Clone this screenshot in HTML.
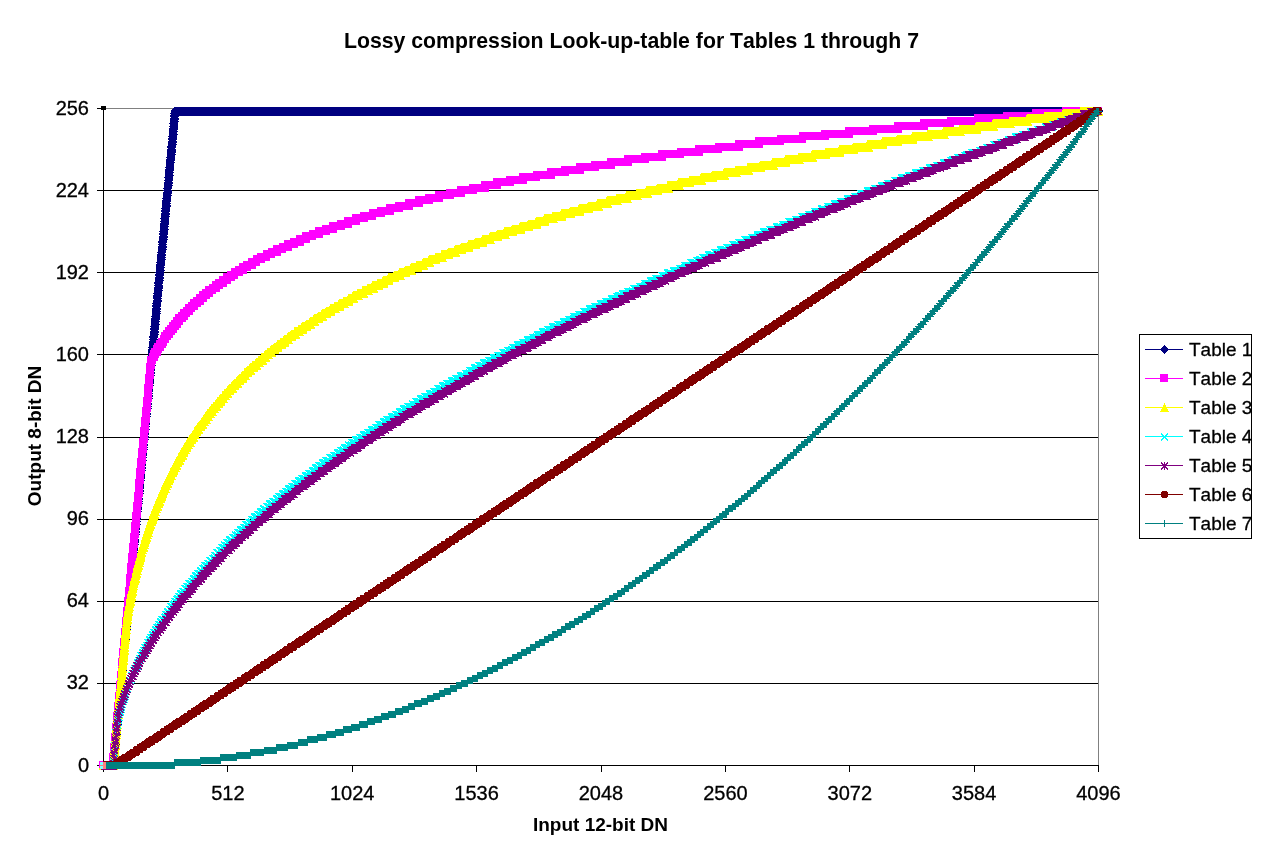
<!DOCTYPE html><html><head><meta charset="utf-8"><title>Lossy compression Look-up-table</title><style>html,body{margin:0;padding:0;background:#fff}svg{display:block}</style></head><body><svg width="1261" height="859" viewBox="0 0 1261 859" shape-rendering="crispEdges">
<rect width="100%" height="100%" fill="#fff"/>
<defs>
<marker id="m1" markerWidth="10" markerHeight="10" refX="5" refY="5" markerUnits="userSpaceOnUse"><path d="M4.2 0.5H5.8L9.5 4.6V5.4L5.8 9.5H4.2L0.5 5.4V4.6Z" fill="#000080"/></marker>
<marker id="m2" markerWidth="10" markerHeight="10" refX="5" refY="5" markerUnits="userSpaceOnUse"><rect x="0.5" y="0.5" width="8" height="8" fill="#FF00FF"/></marker>
<marker id="m3" markerWidth="10" markerHeight="10" refX="5" refY="5" markerUnits="userSpaceOnUse"><path d="M4.2 0.5H5.8L9.5 8.5V9.5H0.5V8.5Z" fill="#FFFF00"/></marker>
<marker id="m4" markerWidth="10" markerHeight="10" refX="5" refY="5" markerUnits="userSpaceOnUse"><path d="M1.5 2L8.5 9M8.5 2L1.5 9" stroke="#00FFFF" stroke-width="1.2" fill="none"/></marker>
<marker id="m5" markerWidth="10" markerHeight="10" refX="5" refY="5" markerUnits="userSpaceOnUse"><path d="M1.5 2L8.5 9M8.5 2L1.5 9M5 1.5V9.5" stroke="#800080" stroke-width="1" fill="none"/></marker>
<marker id="m6" markerWidth="10" markerHeight="10" refX="5" refY="5" markerUnits="userSpaceOnUse"><circle cx="5" cy="4.6" r="3.8" fill="#800000"/></marker>
<marker id="m7" markerWidth="10" markerHeight="10" refX="5" refY="5" markerUnits="userSpaceOnUse"><path d="M1.5 5H8.5M5 1.5V8.5" stroke="#008080" stroke-width="1.2" fill="none"/></marker>
<marker id="l1" markerWidth="10" markerHeight="10" refX="5" refY="5" markerUnits="userSpaceOnUse"><path d="M5 0.5L9 5L5 9.5L1 5Z" fill="#000080"/></marker>
<marker id="l3" markerWidth="10" markerHeight="10" refX="5" refY="5" markerUnits="userSpaceOnUse"><path d="M5 0.5L9.5 9.5H0.5Z" fill="#FFFF00"/></marker>
<marker id="l6" markerWidth="10" markerHeight="10" refX="5" refY="5" markerUnits="userSpaceOnUse"><circle cx="5" cy="5" r="3.8" fill="#800000"/></marker>
</defs>
<line x1="103.5" y1="683.375" x2="1098.5" y2="683.375" stroke="#000" stroke-width="1"/>
<line x1="103.5" y1="601.25" x2="1098.5" y2="601.25" stroke="#000" stroke-width="1"/>
<line x1="103.5" y1="519.125" x2="1098.5" y2="519.125" stroke="#000" stroke-width="1"/>
<line x1="103.5" y1="437.0" x2="1098.5" y2="437.0" stroke="#000" stroke-width="1"/>
<line x1="103.5" y1="354.875" x2="1098.5" y2="354.875" stroke="#000" stroke-width="1"/>
<line x1="103.5" y1="272.75" x2="1098.5" y2="272.75" stroke="#000" stroke-width="1"/>
<line x1="103.5" y1="190.625" x2="1098.5" y2="190.625" stroke="#000" stroke-width="1"/>
<path d="M103.5 108.5H1098.5V765.5" fill="none" stroke="#808080" stroke-width="1"/>
<line x1="103.5" y1="108.5" x2="103.5" y2="771.5" stroke="#000"/>
<line x1="97.0" y1="765.5" x2="1098.5" y2="765.5" stroke="#000"/>
<line x1="97.0" y1="683.375" x2="103.5" y2="683.375" stroke="#000"/>
<line x1="97.0" y1="601.25" x2="103.5" y2="601.25" stroke="#000"/>
<line x1="97.0" y1="519.125" x2="103.5" y2="519.125" stroke="#000"/>
<line x1="97.0" y1="437.0" x2="103.5" y2="437.0" stroke="#000"/>
<line x1="97.0" y1="354.875" x2="103.5" y2="354.875" stroke="#000"/>
<line x1="97.0" y1="272.75" x2="103.5" y2="272.75" stroke="#000"/>
<line x1="97.0" y1="190.625" x2="103.5" y2="190.625" stroke="#000"/>
<line x1="97.0" y1="108.5" x2="103.5" y2="108.5" stroke="#000"/>
<line x1="227.5" y1="765.5" x2="227.5" y2="772.0" stroke="#000"/>
<line x1="352.5" y1="765.5" x2="352.5" y2="772.0" stroke="#000"/>
<line x1="476.5" y1="765.5" x2="476.5" y2="772.0" stroke="#000"/>
<line x1="601.5" y1="765.5" x2="601.5" y2="772.0" stroke="#000"/>
<line x1="725.5" y1="765.5" x2="725.5" y2="772.0" stroke="#000"/>
<line x1="849.5" y1="765.5" x2="849.5" y2="772.0" stroke="#000"/>
<line x1="974.5" y1="765.5" x2="974.5" y2="772.0" stroke="#000"/>
<line x1="1098.5" y1="765.5" x2="1098.5" y2="772.0" stroke="#000"/>
<polyline points="103.5,765.5 104.5,765.5 105.4,765.5 106.4,765.5 107.4,765.5 108.4,765.5 109.3,765.5 110.3,765.5 111.3,765.5 112.2,765.5 113.2,765.5 113.5,762.9 113.7,760.4 113.9,757.8 114.2,755.2 114.4,752.7 114.7,750.1 114.9,747.5 115.2,745.0 115.4,742.4 115.6,739.8 115.9,737.3 116.1,734.7 116.4,732.1 116.6,729.6 116.9,727.0 117.1,724.4 117.3,721.9 117.6,719.3 117.8,716.7 118.1,714.2 118.3,711.6 118.6,709.0 118.8,706.5 119.0,703.9 119.3,701.3 119.5,698.8 119.8,696.2 120.0,693.6 120.3,691.1 120.5,688.5 120.7,685.9 121.0,683.4 121.2,680.8 121.5,678.2 121.7,675.7 122.0,673.1 122.2,670.5 122.4,668.0 122.7,665.4 122.9,662.8 123.2,660.3 123.4,657.7 123.7,655.1 123.9,652.6 124.1,650.0 124.4,647.4 124.6,644.9 124.9,642.3 125.1,639.7 125.4,637.2 125.6,634.6 125.8,632.0 126.1,629.5 126.3,626.9 126.6,624.3 126.8,621.8 127.1,619.2 127.3,616.6 127.5,614.1 127.8,611.5 128.0,608.9 128.3,606.4 128.5,603.8 128.8,601.2 129.0,598.7 129.2,596.1 129.5,593.6 129.7,591.0 130.0,588.4 130.2,585.9 130.5,583.3 130.7,580.7 130.9,578.2 131.2,575.6 131.4,573.0 131.7,570.5 131.9,567.9 132.2,565.3 132.4,562.8 132.7,560.2 132.9,557.6 133.1,555.1 133.4,552.5 133.6,549.9 133.9,547.4 134.1,544.8 134.4,542.2 134.6,539.7 134.8,537.1 135.1,534.5 135.3,532.0 135.6,529.4 135.8,526.8 136.1,524.3 136.3,521.7 136.5,519.1 136.8,516.6 137.0,514.0 137.3,511.4 137.5,508.9 137.8,506.3 138.0,503.7 138.2,501.2 138.5,498.6 138.7,496.0 139.0,493.5 139.2,490.9 139.5,488.3 139.7,485.8 139.9,483.2 140.2,480.6 140.4,478.1 140.7,475.5 140.9,472.9 141.2,470.4 141.4,467.8 141.6,465.2 141.9,462.7 142.1,460.1 142.4,457.5 142.6,455.0 142.9,452.4 143.1,449.8 143.3,447.3 143.6,444.7 143.8,442.1 144.1,439.6 144.3,437.0 144.6,434.4 144.8,431.9 145.0,429.3 145.3,426.7 145.5,424.2 145.8,421.6 146.0,419.0 146.3,416.5 146.5,413.9 146.7,411.3 147.0,408.8 147.2,406.2 147.5,403.6 147.7,401.1 148.0,398.5 148.2,395.9 148.4,393.4 148.7,390.8 148.9,388.2 149.2,385.7 149.4,383.1 149.7,380.5 149.9,378.0 150.1,375.4 150.4,372.8 150.6,370.3 150.9,367.7 151.1,365.1 151.4,362.6 151.6,360.0 151.8,357.4 152.1,354.9 152.3,352.3 152.6,349.7 152.8,347.2 153.1,344.6 153.3,342.0 153.5,339.5 153.8,336.9 154.0,334.3 154.3,331.8 154.5,329.2 154.8,326.6 155.0,324.1 155.2,321.5 155.5,318.9 155.7,316.4 156.0,313.8 156.2,311.2 156.5,308.7 156.7,306.1 156.9,303.5 157.2,301.0 157.4,298.4 157.7,295.8 157.9,293.3 158.2,290.7 158.4,288.1 158.6,285.6 158.9,283.0 159.1,280.4 159.4,277.9 159.6,275.3 159.9,272.8 160.1,270.2 160.3,267.6 160.6,265.1 160.8,262.5 161.1,259.9 161.3,257.4 161.6,254.8 161.8,252.2 162.0,249.7 162.3,247.1 162.5,244.5 162.8,242.0 163.0,239.4 163.3,236.8 163.5,234.3 163.7,231.7 164.0,229.1 164.2,226.6 164.5,224.0 164.7,221.4 165.0,218.9 165.2,216.3 165.4,213.7 165.7,211.2 165.9,208.6 166.2,206.0 166.4,203.5 166.7,200.9 166.9,198.3 167.1,195.8 167.4,193.2 167.6,190.6 167.9,188.1 168.1,185.5 168.4,182.9 168.6,180.4 168.8,177.8 169.1,175.2 169.3,172.7 169.6,170.1 169.8,167.5 170.1,165.0 170.3,162.4 170.5,159.8 170.8,157.3 171.0,154.7 171.3,152.1 171.5,149.6 171.8,147.0 172.0,144.4 172.2,141.9 172.5,139.3 172.7,136.7 173.0,134.2 173.2,131.6 173.5,129.0 173.7,126.5 173.9,123.9 174.2,121.3 174.4,118.8 174.7,116.2 174.9,113.6 175.2,111.1 176.1,111.1 177.1,111.1 178.1,111.1 179.0,111.1 180.0,111.1 181.0,111.1 182.0,111.1 182.9,111.1 183.9,111.1 184.9,111.1 185.8,111.1 186.8,111.1 187.8,111.1 188.8,111.1 189.7,111.1 190.7,111.1 191.7,111.1 192.7,111.1 193.6,111.1 194.6,111.1 195.6,111.1 196.5,111.1 197.5,111.1 198.5,111.1 199.5,111.1 200.4,111.1 201.4,111.1 202.4,111.1 203.3,111.1 204.3,111.1 205.3,111.1 206.3,111.1 207.2,111.1 208.2,111.1 209.2,111.1 210.1,111.1 211.1,111.1 212.1,111.1 213.1,111.1 214.0,111.1 215.0,111.1 216.0,111.1 216.9,111.1 217.9,111.1 218.9,111.1 219.9,111.1 220.8,111.1 221.8,111.1 222.8,111.1 223.7,111.1 224.7,111.1 225.7,111.1 226.7,111.1 227.6,111.1 228.6,111.1 229.6,111.1 230.5,111.1 231.5,111.1 232.5,111.1 233.5,111.1 234.4,111.1 235.4,111.1 236.4,111.1 237.3,111.1 238.3,111.1 239.3,111.1 240.3,111.1 241.2,111.1 242.2,111.1 243.2,111.1 244.2,111.1 245.1,111.1 246.1,111.1 247.1,111.1 248.0,111.1 249.0,111.1 250.0,111.1 251.0,111.1 251.9,111.1 252.9,111.1 253.9,111.1 254.8,111.1 255.8,111.1 256.8,111.1 257.8,111.1 258.7,111.1 259.7,111.1 260.7,111.1 261.6,111.1 262.6,111.1 263.6,111.1 264.6,111.1 265.5,111.1 266.5,111.1 267.5,111.1 268.4,111.1 269.4,111.1 270.4,111.1 271.4,111.1 272.3,111.1 273.3,111.1 274.3,111.1 275.2,111.1 276.2,111.1 277.2,111.1 278.2,111.1 279.1,111.1 280.1,111.1 281.1,111.1 282.0,111.1 283.0,111.1 284.0,111.1 285.0,111.1 285.9,111.1 286.9,111.1 287.9,111.1 288.8,111.1 289.8,111.1 290.8,111.1 291.8,111.1 292.7,111.1 293.7,111.1 294.7,111.1 295.6,111.1 296.6,111.1 297.6,111.1 298.6,111.1 299.5,111.1 300.5,111.1 301.5,111.1 302.5,111.1 303.4,111.1 304.4,111.1 305.4,111.1 306.3,111.1 307.3,111.1 308.3,111.1 309.3,111.1 310.2,111.1 311.2,111.1 312.2,111.1 313.1,111.1 314.1,111.1 315.1,111.1 316.1,111.1 317.0,111.1 318.0,111.1 319.0,111.1 319.9,111.1 320.9,111.1 321.9,111.1 322.9,111.1 323.8,111.1 324.8,111.1 325.8,111.1 326.7,111.1 327.7,111.1 328.7,111.1 329.7,111.1 330.6,111.1 331.6,111.1 332.6,111.1 333.5,111.1 334.5,111.1 335.5,111.1 336.5,111.1 337.4,111.1 338.4,111.1 339.4,111.1 340.3,111.1 341.3,111.1 342.3,111.1 343.3,111.1 344.2,111.1 345.2,111.1 346.2,111.1 347.1,111.1 348.1,111.1 349.1,111.1 350.1,111.1 351.0,111.1 352.0,111.1 353.0,111.1 354.0,111.1 354.9,111.1 355.9,111.1 356.9,111.1 357.8,111.1 358.8,111.1 359.8,111.1 360.8,111.1 361.7,111.1 362.7,111.1 363.7,111.1 364.6,111.1 365.6,111.1 366.6,111.1 367.6,111.1 368.5,111.1 369.5,111.1 370.5,111.1 371.4,111.1 372.4,111.1 373.4,111.1 374.4,111.1 375.3,111.1 376.3,111.1 377.3,111.1 378.2,111.1 379.2,111.1 380.2,111.1 381.2,111.1 382.1,111.1 383.1,111.1 384.1,111.1 385.0,111.1 386.0,111.1 387.0,111.1 388.0,111.1 388.9,111.1 389.9,111.1 390.9,111.1 391.8,111.1 392.8,111.1 393.8,111.1 394.8,111.1 395.7,111.1 396.7,111.1 397.7,111.1 398.6,111.1 399.6,111.1 400.6,111.1 401.6,111.1 402.5,111.1 403.5,111.1 404.5,111.1 405.4,111.1 406.4,111.1 407.4,111.1 408.4,111.1 409.3,111.1 410.3,111.1 411.3,111.1 412.3,111.1 413.2,111.1 414.2,111.1 415.2,111.1 416.1,111.1 417.1,111.1 418.1,111.1 419.1,111.1 420.0,111.1 421.0,111.1 422.0,111.1 422.9,111.1 423.9,111.1 424.9,111.1 425.9,111.1 426.8,111.1 427.8,111.1 428.8,111.1 429.7,111.1 430.7,111.1 431.7,111.1 432.7,111.1 433.6,111.1 434.6,111.1 435.6,111.1 436.5,111.1 437.5,111.1 438.5,111.1 439.5,111.1 440.4,111.1 441.4,111.1 442.4,111.1 443.3,111.1 444.3,111.1 445.3,111.1 446.3,111.1 447.2,111.1 448.2,111.1 449.2,111.1 450.1,111.1 451.1,111.1 452.1,111.1 453.1,111.1 454.0,111.1 455.0,111.1 456.0,111.1 456.9,111.1 457.9,111.1 458.9,111.1 459.9,111.1 460.8,111.1 461.8,111.1 462.8,111.1 463.8,111.1 464.7,111.1 465.7,111.1 466.7,111.1 467.6,111.1 468.6,111.1 469.6,111.1 470.6,111.1 471.5,111.1 472.5,111.1 473.5,111.1 474.4,111.1 475.4,111.1 476.4,111.1 477.4,111.1 478.3,111.1 479.3,111.1 480.3,111.1 481.2,111.1 482.2,111.1 483.2,111.1 484.2,111.1 485.1,111.1 486.1,111.1 487.1,111.1 488.0,111.1 489.0,111.1 490.0,111.1 491.0,111.1 491.9,111.1 492.9,111.1 493.9,111.1 494.8,111.1 495.8,111.1 496.8,111.1 497.8,111.1 498.7,111.1 499.7,111.1 500.7,111.1 501.6,111.1 502.6,111.1 503.6,111.1 504.6,111.1 505.5,111.1 506.5,111.1 507.5,111.1 508.4,111.1 509.4,111.1 510.4,111.1 511.4,111.1 512.3,111.1 513.3,111.1 514.3,111.1 515.2,111.1 516.2,111.1 517.2,111.1 518.2,111.1 519.1,111.1 520.1,111.1 521.1,111.1 522.1,111.1 523.0,111.1 524.0,111.1 525.0,111.1 525.9,111.1 526.9,111.1 527.9,111.1 528.9,111.1 529.8,111.1 530.8,111.1 531.8,111.1 532.7,111.1 533.7,111.1 534.7,111.1 535.7,111.1 536.6,111.1 537.6,111.1 538.6,111.1 539.5,111.1 540.5,111.1 541.5,111.1 542.5,111.1 543.4,111.1 544.4,111.1 545.4,111.1 546.3,111.1 547.3,111.1 548.3,111.1 549.3,111.1 550.2,111.1 551.2,111.1 552.2,111.1 553.1,111.1 554.1,111.1 555.1,111.1 556.1,111.1 557.0,111.1 558.0,111.1 559.0,111.1 559.9,111.1 560.9,111.1 561.9,111.1 562.9,111.1 563.8,111.1 564.8,111.1 565.8,111.1 566.7,111.1 567.7,111.1 568.7,111.1 569.7,111.1 570.6,111.1 571.6,111.1 572.6,111.1 573.6,111.1 574.5,111.1 575.5,111.1 576.5,111.1 577.4,111.1 578.4,111.1 579.4,111.1 580.4,111.1 581.3,111.1 582.3,111.1 583.3,111.1 584.2,111.1 585.2,111.1 586.2,111.1 587.2,111.1 588.1,111.1 589.1,111.1 590.1,111.1 591.0,111.1 592.0,111.1 593.0,111.1 594.0,111.1 594.9,111.1 595.9,111.1 596.9,111.1 597.8,111.1 598.8,111.1 599.8,111.1 600.8,111.1 601.7,111.1 602.7,111.1 603.7,111.1 604.6,111.1 605.6,111.1 606.6,111.1 607.6,111.1 608.5,111.1 609.5,111.1 610.5,111.1 611.4,111.1 612.4,111.1 613.4,111.1 614.4,111.1 615.3,111.1 616.3,111.1 617.3,111.1 618.2,111.1 619.2,111.1 620.2,111.1 621.2,111.1 622.1,111.1 623.1,111.1 624.1,111.1 625.0,111.1 626.0,111.1 627.0,111.1 628.0,111.1 628.9,111.1 629.9,111.1 630.9,111.1 631.9,111.1 632.8,111.1 633.8,111.1 634.8,111.1 635.7,111.1 636.7,111.1 637.7,111.1 638.7,111.1 639.6,111.1 640.6,111.1 641.6,111.1 642.5,111.1 643.5,111.1 644.5,111.1 645.5,111.1 646.4,111.1 647.4,111.1 648.4,111.1 649.3,111.1 650.3,111.1 651.3,111.1 652.3,111.1 653.2,111.1 654.2,111.1 655.2,111.1 656.1,111.1 657.1,111.1 658.1,111.1 659.1,111.1 660.0,111.1 661.0,111.1 662.0,111.1 662.9,111.1 663.9,111.1 664.9,111.1 665.9,111.1 666.8,111.1 667.8,111.1 668.8,111.1 669.7,111.1 670.7,111.1 671.7,111.1 672.7,111.1 673.6,111.1 674.6,111.1 675.6,111.1 676.5,111.1 677.5,111.1 678.5,111.1 679.5,111.1 680.4,111.1 681.4,111.1 682.4,111.1 683.3,111.1 684.3,111.1 685.3,111.1 686.3,111.1 687.2,111.1 688.2,111.1 689.2,111.1 690.2,111.1 691.1,111.1 692.1,111.1 693.1,111.1 694.0,111.1 695.0,111.1 696.0,111.1 697.0,111.1 697.9,111.1 698.9,111.1 699.9,111.1 700.8,111.1 701.8,111.1 702.8,111.1 703.8,111.1 704.7,111.1 705.7,111.1 706.7,111.1 707.6,111.1 708.6,111.1 709.6,111.1 710.6,111.1 711.5,111.1 712.5,111.1 713.5,111.1 714.4,111.1 715.4,111.1 716.4,111.1 717.4,111.1 718.3,111.1 719.3,111.1 720.3,111.1 721.2,111.1 722.2,111.1 723.2,111.1 724.2,111.1 725.1,111.1 726.1,111.1 727.1,111.1 728.0,111.1 729.0,111.1 730.0,111.1 731.0,111.1 731.9,111.1 732.9,111.1 733.9,111.1 734.8,111.1 735.8,111.1 736.8,111.1 737.8,111.1 738.7,111.1 739.7,111.1 740.7,111.1 741.7,111.1 742.6,111.1 743.6,111.1 744.6,111.1 745.5,111.1 746.5,111.1 747.5,111.1 748.5,111.1 749.4,111.1 750.4,111.1 751.4,111.1 752.3,111.1 753.3,111.1 754.3,111.1 755.3,111.1 756.2,111.1 757.2,111.1 758.2,111.1 759.1,111.1 760.1,111.1 761.1,111.1 762.1,111.1 763.0,111.1 764.0,111.1 765.0,111.1 765.9,111.1 766.9,111.1 767.9,111.1 768.9,111.1 769.8,111.1 770.8,111.1 771.8,111.1 772.7,111.1 773.7,111.1 774.7,111.1 775.7,111.1 776.6,111.1 777.6,111.1 778.6,111.1 779.5,111.1 780.5,111.1 781.5,111.1 782.5,111.1 783.4,111.1 784.4,111.1 785.4,111.1 786.3,111.1 787.3,111.1 788.3,111.1 789.3,111.1 790.2,111.1 791.2,111.1 792.2,111.1 793.1,111.1 794.1,111.1 795.1,111.1 796.1,111.1 797.0,111.1 798.0,111.1 799.0,111.1 800.0,111.1 800.9,111.1 801.9,111.1 802.9,111.1 803.8,111.1 804.8,111.1 805.8,111.1 806.8,111.1 807.7,111.1 808.7,111.1 809.7,111.1 810.6,111.1 811.6,111.1 812.6,111.1 813.6,111.1 814.5,111.1 815.5,111.1 816.5,111.1 817.4,111.1 818.4,111.1 819.4,111.1 820.4,111.1 821.3,111.1 822.3,111.1 823.3,111.1 824.2,111.1 825.2,111.1 826.2,111.1 827.2,111.1 828.1,111.1 829.1,111.1 830.1,111.1 831.0,111.1 832.0,111.1 833.0,111.1 834.0,111.1 834.9,111.1 835.9,111.1 836.9,111.1 837.8,111.1 838.8,111.1 839.8,111.1 840.8,111.1 841.7,111.1 842.7,111.1 843.7,111.1 844.6,111.1 845.6,111.1 846.6,111.1 847.6,111.1 848.5,111.1 849.5,111.1 850.5,111.1 851.5,111.1 852.4,111.1 853.4,111.1 854.4,111.1 855.3,111.1 856.3,111.1 857.3,111.1 858.3,111.1 859.2,111.1 860.2,111.1 861.2,111.1 862.1,111.1 863.1,111.1 864.1,111.1 865.1,111.1 866.0,111.1 867.0,111.1 868.0,111.1 868.9,111.1 869.9,111.1 870.9,111.1 871.9,111.1 872.8,111.1 873.8,111.1 874.8,111.1 875.7,111.1 876.7,111.1 877.7,111.1 878.7,111.1 879.6,111.1 880.6,111.1 881.6,111.1 882.5,111.1 883.5,111.1 884.5,111.1 885.5,111.1 886.4,111.1 887.4,111.1 888.4,111.1 889.3,111.1 890.3,111.1 891.3,111.1 892.3,111.1 893.2,111.1 894.2,111.1 895.2,111.1 896.1,111.1 897.1,111.1 898.1,111.1 899.1,111.1 900.0,111.1 901.0,111.1 902.0,111.1 902.9,111.1 903.9,111.1 904.9,111.1 905.9,111.1 906.8,111.1 907.8,111.1 908.8,111.1 909.8,111.1 910.7,111.1 911.7,111.1 912.7,111.1 913.6,111.1 914.6,111.1 915.6,111.1 916.6,111.1 917.5,111.1 918.5,111.1 919.5,111.1 920.4,111.1 921.4,111.1 922.4,111.1 923.4,111.1 924.3,111.1 925.3,111.1 926.3,111.1 927.2,111.1 928.2,111.1 929.2,111.1 930.2,111.1 931.1,111.1 932.1,111.1 933.1,111.1 934.0,111.1 935.0,111.1 936.0,111.1 937.0,111.1 937.9,111.1 938.9,111.1 939.9,111.1 940.8,111.1 941.8,111.1 942.8,111.1 943.8,111.1 944.7,111.1 945.7,111.1 946.7,111.1 947.6,111.1 948.6,111.1 949.6,111.1 950.6,111.1 951.5,111.1 952.5,111.1 953.5,111.1 954.4,111.1 955.4,111.1 956.4,111.1 957.4,111.1 958.3,111.1 959.3,111.1 960.3,111.1 961.3,111.1 962.2,111.1 963.2,111.1 964.2,111.1 965.1,111.1 966.1,111.1 967.1,111.1 968.1,111.1 969.0,111.1 970.0,111.1 971.0,111.1 971.9,111.1 972.9,111.1 973.9,111.1 974.9,111.1 975.8,111.1 976.8,111.1 977.8,111.1 978.7,111.1 979.7,111.1 980.7,111.1 981.7,111.1 982.6,111.1 983.6,111.1 984.6,111.1 985.5,111.1 986.5,111.1 987.5,111.1 988.5,111.1 989.4,111.1 990.4,111.1 991.4,111.1 992.3,111.1 993.3,111.1 994.3,111.1 995.3,111.1 996.2,111.1 997.2,111.1 998.2,111.1 999.1,111.1 1000.1,111.1 1001.1,111.1 1002.1,111.1 1003.0,111.1 1004.0,111.1 1005.0,111.1 1005.9,111.1 1006.9,111.1 1007.9,111.1 1008.9,111.1 1009.8,111.1 1010.8,111.1 1011.8,111.1 1012.7,111.1 1013.7,111.1 1014.7,111.1 1015.7,111.1 1016.6,111.1 1017.6,111.1 1018.6,111.1 1019.6,111.1 1020.5,111.1 1021.5,111.1 1022.5,111.1 1023.4,111.1 1024.4,111.1 1025.4,111.1 1026.4,111.1 1027.3,111.1 1028.3,111.1 1029.3,111.1 1030.2,111.1 1031.2,111.1 1032.2,111.1 1033.2,111.1 1034.1,111.1 1035.1,111.1 1036.1,111.1 1037.0,111.1 1038.0,111.1 1039.0,111.1 1040.0,111.1 1040.9,111.1 1041.9,111.1 1042.9,111.1 1043.8,111.1 1044.8,111.1 1045.8,111.1 1046.8,111.1 1047.7,111.1 1048.7,111.1 1049.7,111.1 1050.6,111.1 1051.6,111.1 1052.6,111.1 1053.6,111.1 1054.5,111.1 1055.5,111.1 1056.5,111.1 1057.4,111.1 1058.4,111.1 1059.4,111.1 1060.4,111.1 1061.3,111.1 1062.3,111.1 1063.3,111.1 1064.2,111.1 1065.2,111.1 1066.2,111.1 1067.2,111.1 1068.1,111.1 1069.1,111.1 1070.1,111.1 1071.1,111.1 1072.0,111.1 1073.0,111.1 1074.0,111.1 1074.9,111.1 1075.9,111.1 1076.9,111.1 1077.9,111.1 1078.8,111.1 1079.8,111.1 1080.8,111.1 1081.7,111.1 1082.7,111.1 1083.7,111.1 1084.7,111.1 1085.6,111.1 1086.6,111.1 1087.6,111.1 1088.5,111.1 1089.5,111.1 1090.5,111.1 1091.5,111.1 1092.4,111.1 1093.4,111.1 1094.4,111.1 1095.3,111.1 1096.3,111.1 1097.3,111.1 1098.3,111.1 1098.5,111.1" fill="none" stroke="#000080" stroke-width="1" marker-start="url(#m1)" marker-mid="url(#m1)" marker-end="url(#m1)"/>
<polyline points="103.5,765.5 104.5,765.5 105.4,765.5 106.4,765.5 107.4,765.5 108.4,765.5 109.3,765.5 110.3,765.5 111.3,765.5 112.2,765.5 113.2,765.5 113.5,762.9 113.7,760.4 113.9,757.8 114.2,755.2 114.4,752.7 114.7,750.1 114.9,747.5 115.2,745.0 115.4,742.4 115.6,739.8 115.9,737.3 116.1,734.7 116.4,732.1 116.6,729.6 116.9,727.0 117.1,724.4 117.3,721.9 117.6,719.3 117.8,716.7 118.1,714.2 118.3,711.6 118.6,709.0 118.8,706.5 119.0,703.9 119.3,701.3 119.5,698.8 119.8,696.2 120.0,693.6 120.3,691.1 120.5,688.5 120.7,685.9 121.0,683.4 121.2,680.8 121.5,678.2 121.7,675.7 122.0,673.1 122.2,670.5 122.4,668.0 122.7,665.4 122.9,662.8 123.2,660.3 123.4,657.7 123.7,655.1 123.9,652.6 124.1,650.0 124.4,647.4 124.6,644.9 124.9,642.3 125.1,639.7 125.4,637.2 125.6,634.6 125.8,632.0 126.1,629.5 126.3,626.9 126.6,624.3 126.8,621.8 127.1,619.2 127.3,616.6 127.5,614.1 127.8,611.5 128.0,608.9 128.3,606.4 128.5,603.8 128.8,601.2 129.0,598.7 129.2,596.1 129.5,593.6 129.7,591.0 130.0,588.4 130.2,585.9 130.5,583.3 130.7,580.7 130.9,578.2 131.2,575.6 131.4,573.0 131.7,570.5 131.9,567.9 132.2,565.3 132.4,562.8 132.7,560.2 132.9,557.6 133.1,555.1 133.4,552.5 133.6,549.9 133.9,547.4 134.1,544.8 134.4,542.2 134.6,539.7 134.8,537.1 135.1,534.5 135.3,532.0 135.6,529.4 135.8,526.8 136.1,524.3 136.3,521.7 136.5,519.1 136.8,516.6 137.0,514.0 137.3,511.4 137.5,508.9 137.8,506.3 138.0,503.7 138.2,501.2 138.5,498.6 138.7,496.0 139.0,493.5 139.2,490.9 139.5,488.3 139.7,485.8 139.9,483.2 140.2,480.6 140.4,478.1 140.7,475.5 140.9,472.9 141.2,470.4 141.4,467.8 141.6,465.2 141.9,462.7 142.1,460.1 142.4,457.5 142.6,455.0 142.9,452.4 143.1,449.8 143.3,447.3 143.6,444.7 143.8,442.1 144.1,439.6 144.3,437.0 144.6,434.4 144.8,431.9 145.0,429.3 145.3,426.7 145.5,424.2 145.8,421.6 146.0,419.0 146.3,416.5 146.5,413.9 146.7,411.3 147.0,408.8 147.2,406.2 147.5,403.6 147.7,401.1 148.0,398.5 148.2,395.9 148.4,393.4 148.7,390.8 148.9,388.2 149.2,385.7 149.4,383.1 149.7,380.5 149.9,378.0 150.1,375.4 150.4,372.8 150.6,370.3 150.9,367.7 151.1,365.1 151.4,362.6 151.6,360.0 152.6,360.0 152.8,360.0 153.1,357.4 154.0,357.4 154.3,354.9 155.2,354.9 155.5,354.9 155.7,352.3 156.7,352.3 157.2,352.3 157.4,349.7 158.4,349.7 158.6,349.7 158.9,347.2 159.9,347.2 160.3,347.2 160.6,344.6 161.6,344.6 162.0,344.6 162.3,342.0 163.3,342.0 163.7,342.0 164.0,339.5 165.0,339.5 165.4,339.5 165.7,336.9 166.7,336.9 167.4,336.9 167.6,334.3 168.6,334.3 169.1,334.3 169.3,331.8 170.3,331.8 171.0,331.8 171.3,329.2 172.2,329.2 173.2,329.2 173.5,326.6 174.4,326.6 175.2,326.6 175.4,324.1 176.4,324.1 177.3,324.1 177.6,321.5 178.6,321.5 179.5,321.5 179.8,318.9 180.7,318.9 181.7,318.9 182.0,318.9 182.2,316.4 183.2,316.4 184.1,316.4 184.4,316.4 184.6,313.8 185.6,313.8 186.6,313.8 186.8,313.8 187.1,311.2 188.0,311.2 189.0,311.2 189.3,311.2 189.5,308.7 190.5,308.7 191.4,308.7 191.9,308.7 192.2,306.1 193.1,306.1 194.1,306.1 194.6,306.1 194.8,303.5 195.8,303.5 196.8,303.5 197.5,303.5 197.8,301.0 198.7,301.0 199.7,301.0 200.4,301.0 200.7,298.4 201.6,298.4 202.6,298.4 203.3,298.4 203.6,295.8 204.6,295.8 205.5,295.8 206.3,295.8 206.5,293.3 207.5,293.3 208.4,293.3 209.4,293.3 209.7,293.3 209.9,290.7 210.9,290.7 211.8,290.7 212.8,290.7 213.1,288.1 214.0,288.1 215.0,288.1 216.0,288.1 216.2,288.1 216.5,285.6 217.4,285.6 218.4,285.6 219.4,285.6 219.6,285.6 219.9,283.0 220.8,283.0 221.8,283.0 222.8,283.0 223.3,283.0 223.5,280.4 224.5,280.4 225.4,280.4 226.4,280.4 227.1,280.4 227.4,277.9 228.4,277.9 229.3,277.9 230.3,277.9 231.0,277.9 231.3,275.3 232.2,275.3 233.2,275.3 234.2,275.3 234.9,275.3 235.2,272.8 236.1,272.8 237.1,272.8 238.1,272.8 239.0,272.8 239.3,270.2 240.3,270.2 241.2,270.2 242.2,270.2 243.2,270.2 243.4,267.6 244.4,267.6 245.4,267.6 246.3,267.6 247.3,267.6 247.6,267.6 247.8,265.1 248.8,265.1 249.7,265.1 250.7,265.1 251.7,265.1 252.2,265.1 252.4,262.5 253.4,262.5 254.4,262.5 255.3,262.5 256.3,262.5 256.8,262.5 257.0,259.9 258.0,259.9 259.0,259.9 259.9,259.9 260.9,259.9 261.6,259.9 261.9,257.4 262.9,257.4 263.8,257.4 264.8,257.4 265.8,257.4 266.7,257.4 267.0,254.8 268.0,254.8 268.9,254.8 269.9,254.8 270.9,254.8 271.8,254.8 272.1,252.2 273.1,252.2 274.0,252.2 275.0,252.2 276.0,252.2 276.9,252.2 277.2,252.2 277.4,249.7 278.4,249.7 279.4,249.7 280.3,249.7 281.3,249.7 282.3,249.7 282.8,249.7 283.0,247.1 284.0,247.1 285.0,247.1 285.9,247.1 286.9,247.1 287.9,247.1 288.4,247.1 288.6,244.5 289.6,244.5 290.5,244.5 291.5,244.5 292.5,244.5 293.5,244.5 294.2,244.5 294.4,242.0 295.4,242.0 296.4,242.0 297.4,242.0 298.3,242.0 299.3,242.0 300.3,242.0 300.5,239.4 301.5,239.4 302.5,239.4 303.4,239.4 304.4,239.4 305.4,239.4 306.3,239.4 306.6,239.4 306.8,236.8 307.8,236.8 308.8,236.8 309.7,236.8 310.7,236.8 311.7,236.8 312.7,236.8 312.9,236.8 313.1,234.3 314.1,234.3 315.1,234.3 316.1,234.3 317.0,234.3 318.0,234.3 319.0,234.3 319.7,234.3 319.9,231.7 320.9,231.7 321.9,231.7 322.9,231.7 323.8,231.7 324.8,231.7 325.8,231.7 326.5,231.7 326.7,229.1 327.7,229.1 328.7,229.1 329.7,229.1 330.6,229.1 331.6,229.1 332.6,229.1 333.5,229.1 333.8,226.6 334.8,226.6 335.7,226.6 336.7,226.6 337.7,226.6 338.6,226.6 339.6,226.6 340.6,226.6 341.1,226.6 341.3,224.0 342.3,224.0 343.3,224.0 344.2,224.0 345.2,224.0 346.2,224.0 347.1,224.0 348.1,224.0 348.6,224.0 348.8,221.4 349.8,221.4 350.8,221.4 351.8,221.4 352.7,221.4 353.7,221.4 354.7,221.4 355.7,221.4 356.4,221.4 356.6,218.9 357.6,218.9 358.6,218.9 359.5,218.9 360.5,218.9 361.5,218.9 362.5,218.9 363.4,218.9 364.4,218.9 364.6,218.9 364.9,216.3 365.9,216.3 366.8,216.3 367.8,216.3 368.8,216.3 369.7,216.3 370.7,216.3 371.7,216.3 372.7,216.3 372.9,216.3 373.1,213.7 374.1,213.7 375.1,213.7 376.1,213.7 377.0,213.7 378.0,213.7 379.0,213.7 379.9,213.7 380.9,213.7 381.6,213.7 381.9,211.2 382.9,211.2 383.8,211.2 384.8,211.2 385.8,211.2 386.7,211.2 387.7,211.2 388.7,211.2 389.7,211.2 390.4,211.2 390.6,208.6 391.6,208.6 392.6,208.6 393.5,208.6 394.5,208.6 395.5,208.6 396.5,208.6 397.4,208.6 398.4,208.6 399.4,208.6 399.6,208.6 399.9,206.0 400.8,206.0 401.8,206.0 402.8,206.0 403.7,206.0 404.7,206.0 405.7,206.0 406.7,206.0 407.6,206.0 408.6,206.0 409.1,206.0 409.3,203.5 410.3,203.5 411.3,203.5 412.3,203.5 413.2,203.5 414.2,203.5 415.2,203.5 416.1,203.5 417.1,203.5 418.1,203.5 419.1,203.5 419.3,200.9 420.3,200.9 421.2,200.9 422.2,200.9 423.2,200.9 424.2,200.9 425.1,200.9 426.1,200.9 427.1,200.9 428.0,200.9 429.0,200.9 429.3,200.9 429.5,198.3 430.5,198.3 431.4,198.3 432.4,198.3 433.4,198.3 434.4,198.3 435.3,198.3 436.3,198.3 437.3,198.3 438.2,198.3 439.2,198.3 439.7,198.3 439.9,195.8 440.9,195.8 441.9,195.8 442.9,195.8 443.8,195.8 444.8,195.8 445.8,195.8 446.7,195.8 447.7,195.8 448.7,195.8 449.7,195.8 450.4,195.8 450.6,193.2 451.6,193.2 452.6,193.2 453.5,193.2 454.5,193.2 455.5,193.2 456.5,193.2 457.4,193.2 458.4,193.2 459.4,193.2 460.3,193.2 461.3,193.2 461.6,193.2 461.8,190.6 462.8,190.6 463.8,190.6 464.7,190.6 465.7,190.6 466.7,190.6 467.6,190.6 468.6,190.6 469.6,190.6 470.6,190.6 471.5,190.6 472.5,190.6 473.2,190.6 473.5,188.1 474.4,188.1 475.4,188.1 476.4,188.1 477.4,188.1 478.3,188.1 479.3,188.1 480.3,188.1 481.2,188.1 482.2,188.1 483.2,188.1 484.2,188.1 485.1,188.1 485.4,185.5 486.3,185.5 487.3,185.5 488.3,185.5 489.3,185.5 490.2,185.5 491.2,185.5 492.2,185.5 493.1,185.5 494.1,185.5 495.1,185.5 496.1,185.5 497.0,185.5 497.5,185.5 497.8,182.9 498.7,182.9 499.7,182.9 500.7,182.9 501.6,182.9 502.6,182.9 503.6,182.9 504.6,182.9 505.5,182.9 506.5,182.9 507.5,182.9 508.4,182.9 509.4,182.9 510.1,182.9 510.4,180.4 511.4,180.4 512.3,180.4 513.3,180.4 514.3,180.4 515.2,180.4 516.2,180.4 517.2,180.4 518.2,180.4 519.1,180.4 520.1,180.4 521.1,180.4 522.1,180.4 523.0,180.4 523.3,180.4 523.5,177.8 524.5,177.8 525.5,177.8 526.4,177.8 527.4,177.8 528.4,177.8 529.3,177.8 530.3,177.8 531.3,177.8 532.3,177.8 533.2,177.8 534.2,177.8 535.2,177.8 536.1,177.8 536.9,177.8 537.1,175.2 538.1,175.2 539.1,175.2 540.0,175.2 541.0,175.2 542.0,175.2 542.9,175.2 543.9,175.2 544.9,175.2 545.9,175.2 546.8,175.2 547.8,175.2 548.8,175.2 549.7,175.2 550.7,175.2 551.0,175.2 551.2,172.7 552.2,172.7 553.1,172.7 554.1,172.7 555.1,172.7 556.1,172.7 557.0,172.7 558.0,172.7 559.0,172.7 559.9,172.7 560.9,172.7 561.9,172.7 562.9,172.7 563.8,172.7 564.8,172.7 565.3,172.7 565.5,170.1 566.5,170.1 567.5,170.1 568.4,170.1 569.4,170.1 570.4,170.1 571.4,170.1 572.3,170.1 573.3,170.1 574.3,170.1 575.3,170.1 576.2,170.1 577.2,170.1 578.2,170.1 579.1,170.1 580.1,170.1 580.4,170.1 580.6,167.5 581.6,167.5 582.5,167.5 583.5,167.5 584.5,167.5 585.5,167.5 586.4,167.5 587.4,167.5 588.4,167.5 589.3,167.5 590.3,167.5 591.3,167.5 592.3,167.5 593.2,167.5 594.2,167.5 595.2,167.5 595.7,167.5 595.9,165.0 596.9,165.0 597.8,165.0 598.8,165.0 599.8,165.0 600.8,165.0 601.7,165.0 602.7,165.0 603.7,165.0 604.6,165.0 605.6,165.0 606.6,165.0 607.6,165.0 608.5,165.0 609.5,165.0 610.5,165.0 611.4,165.0 611.7,165.0 611.9,162.4 612.9,162.4 613.9,162.4 614.8,162.4 615.8,162.4 616.8,162.4 617.8,162.4 618.7,162.4 619.7,162.4 620.7,162.4 621.6,162.4 622.6,162.4 623.6,162.4 624.6,162.4 625.5,162.4 626.5,162.4 627.5,162.4 628.2,162.4 628.4,159.8 629.4,159.8 630.4,159.8 631.4,159.8 632.3,159.8 633.3,159.8 634.3,159.8 635.3,159.8 636.2,159.8 637.2,159.8 638.2,159.8 639.1,159.8 640.1,159.8 641.1,159.8 642.1,159.8 643.0,159.8 644.0,159.8 645.0,159.8 645.2,159.8 645.5,157.3 646.4,157.3 647.4,157.3 648.4,157.3 649.3,157.3 650.3,157.3 651.3,157.3 652.3,157.3 653.2,157.3 654.2,157.3 655.2,157.3 656.1,157.3 657.1,157.3 658.1,157.3 659.1,157.3 660.0,157.3 661.0,157.3 662.0,157.3 662.7,157.3 662.9,154.7 663.9,154.7 664.9,154.7 665.9,154.7 666.8,154.7 667.8,154.7 668.8,154.7 669.7,154.7 670.7,154.7 671.7,154.7 672.7,154.7 673.6,154.7 674.6,154.7 675.6,154.7 676.5,154.7 677.5,154.7 678.5,154.7 679.5,154.7 680.4,154.7 680.9,154.7 681.2,152.1 682.1,152.1 683.1,152.1 684.1,152.1 685.1,152.1 686.0,152.1 687.0,152.1 688.0,152.1 688.9,152.1 689.9,152.1 690.9,152.1 691.9,152.1 692.8,152.1 693.8,152.1 694.8,152.1 695.7,152.1 696.7,152.1 697.7,152.1 698.7,152.1 699.6,152.1 699.9,149.6 700.8,149.6 701.8,149.6 702.8,149.6 703.8,149.6 704.7,149.6 705.7,149.6 706.7,149.6 707.6,149.6 708.6,149.6 709.6,149.6 710.6,149.6 711.5,149.6 712.5,149.6 713.5,149.6 714.4,149.6 715.4,149.6 716.4,149.6 717.4,149.6 718.3,149.6 718.8,149.6 719.1,147.0 720.0,147.0 721.0,147.0 722.0,147.0 722.9,147.0 723.9,147.0 724.9,147.0 725.9,147.0 726.8,147.0 727.8,147.0 728.8,147.0 729.7,147.0 730.7,147.0 731.7,147.0 732.7,147.0 733.6,147.0 734.6,147.0 735.6,147.0 736.5,147.0 737.5,147.0 738.5,147.0 739.0,147.0 739.2,144.4 740.2,144.4 741.2,144.4 742.1,144.4 743.1,144.4 744.1,144.4 745.1,144.4 746.0,144.4 747.0,144.4 748.0,144.4 748.9,144.4 749.9,144.4 750.9,144.4 751.9,144.4 752.8,144.4 753.8,144.4 754.8,144.4 755.7,144.4 756.7,144.4 757.7,144.4 758.7,144.4 759.6,144.4 759.9,141.9 760.8,141.9 761.8,141.9 762.8,141.9 763.8,141.9 764.7,141.9 765.7,141.9 766.7,141.9 767.6,141.9 768.6,141.9 769.6,141.9 770.6,141.9 771.5,141.9 772.5,141.9 773.5,141.9 774.4,141.9 775.4,141.9 776.4,141.9 777.4,141.9 778.3,141.9 779.3,141.9 780.3,141.9 780.8,141.9 781.0,139.3 782.0,139.3 782.9,139.3 783.9,139.3 784.9,139.3 785.9,139.3 786.8,139.3 787.8,139.3 788.8,139.3 789.7,139.3 790.7,139.3 791.7,139.3 792.7,139.3 793.6,139.3 794.6,139.3 795.6,139.3 796.6,139.3 797.5,139.3 798.5,139.3 799.5,139.3 800.4,139.3 801.4,139.3 802.4,139.3 802.9,139.3 803.1,136.7 804.1,136.7 805.1,136.7 806.0,136.7 807.0,136.7 808.0,136.7 808.9,136.7 809.9,136.7 810.9,136.7 811.9,136.7 812.8,136.7 813.8,136.7 814.8,136.7 815.7,136.7 816.7,136.7 817.7,136.7 818.7,136.7 819.6,136.7 820.6,136.7 821.6,136.7 822.5,136.7 823.5,136.7 824.5,136.7 825.5,136.7 825.7,134.2 826.7,134.2 827.6,134.2 828.6,134.2 829.6,134.2 830.6,134.2 831.5,134.2 832.5,134.2 833.5,134.2 834.4,134.2 835.4,134.2 836.4,134.2 837.4,134.2 838.3,134.2 839.3,134.2 840.3,134.2 841.2,134.2 842.2,134.2 843.2,134.2 844.2,134.2 845.1,134.2 846.1,134.2 847.1,134.2 848.0,134.2 849.0,134.2 849.3,131.6 850.2,131.6 851.2,131.6 852.2,131.6 853.2,131.6 854.1,131.6 855.1,131.6 856.1,131.6 857.0,131.6 858.0,131.6 859.0,131.6 860.0,131.6 860.9,131.6 861.9,131.6 862.9,131.6 863.8,131.6 864.8,131.6 865.8,131.6 866.8,131.6 867.7,131.6 868.7,131.6 869.7,131.6 870.6,131.6 871.6,131.6 872.6,131.6 873.3,131.6 873.6,129.0 874.5,129.0 875.5,129.0 876.5,129.0 877.4,129.0 878.4,129.0 879.4,129.0 880.4,129.0 881.3,129.0 882.3,129.0 883.3,129.0 884.2,129.0 885.2,129.0 886.2,129.0 887.2,129.0 888.1,129.0 889.1,129.0 890.1,129.0 891.0,129.0 892.0,129.0 893.0,129.0 894.0,129.0 894.9,129.0 895.9,129.0 896.9,129.0 897.8,129.0 898.3,129.0 898.6,126.5 899.5,126.5 900.5,126.5 901.5,126.5 902.5,126.5 903.4,126.5 904.4,126.5 905.4,126.5 906.4,126.5 907.3,126.5 908.3,126.5 909.3,126.5 910.2,126.5 911.2,126.5 912.2,126.5 913.2,126.5 914.1,126.5 915.1,126.5 916.1,126.5 917.0,126.5 918.0,126.5 919.0,126.5 920.0,126.5 920.9,126.5 921.9,126.5 922.9,126.5 923.8,126.5 924.1,126.5 924.3,123.9 925.3,123.9 926.3,123.9 927.2,123.9 928.2,123.9 929.2,123.9 930.2,123.9 931.1,123.9 932.1,123.9 933.1,123.9 934.0,123.9 935.0,123.9 936.0,123.9 937.0,123.9 937.9,123.9 938.9,123.9 939.9,123.9 940.8,123.9 941.8,123.9 942.8,123.9 943.8,123.9 944.7,123.9 945.7,123.9 946.7,123.9 947.6,123.9 948.6,123.9 949.6,123.9 950.6,123.9 950.8,123.9 951.0,121.3 952.0,121.3 953.0,121.3 954.0,121.3 954.9,121.3 955.9,121.3 956.9,121.3 957.8,121.3 958.8,121.3 959.8,121.3 960.8,121.3 961.7,121.3 962.7,121.3 963.7,121.3 964.7,121.3 965.6,121.3 966.6,121.3 967.6,121.3 968.5,121.3 969.5,121.3 970.5,121.3 971.5,121.3 972.4,121.3 973.4,121.3 974.4,121.3 975.3,121.3 976.3,121.3 977.3,121.3 978.3,121.3 978.5,121.3 978.7,118.8 979.7,118.8 980.7,118.8 981.7,118.8 982.6,118.8 983.6,118.8 984.6,118.8 985.5,118.8 986.5,118.8 987.5,118.8 988.5,118.8 989.4,118.8 990.4,118.8 991.4,118.8 992.3,118.8 993.3,118.8 994.3,118.8 995.3,118.8 996.2,118.8 997.2,118.8 998.2,118.8 999.1,118.8 1000.1,118.8 1001.1,118.8 1002.1,118.8 1003.0,118.8 1004.0,118.8 1005.0,118.8 1005.9,118.8 1006.9,118.8 1007.2,116.2 1008.1,116.2 1009.1,116.2 1010.1,116.2 1011.0,116.2 1012.0,116.2 1013.0,116.2 1014.0,116.2 1014.9,116.2 1015.9,116.2 1016.9,116.2 1017.9,116.2 1018.8,116.2 1019.8,116.2 1020.8,116.2 1021.7,116.2 1022.7,116.2 1023.7,116.2 1024.7,116.2 1025.6,116.2 1026.6,116.2 1027.6,116.2 1028.5,116.2 1029.5,116.2 1030.5,116.2 1031.5,116.2 1032.4,116.2 1033.4,116.2 1034.4,116.2 1035.3,116.2 1036.3,116.2 1036.6,113.6 1037.5,113.6 1038.5,113.6 1039.5,113.6 1040.4,113.6 1041.4,113.6 1042.4,113.6 1043.4,113.6 1044.3,113.6 1045.3,113.6 1046.3,113.6 1047.2,113.6 1048.2,113.6 1049.2,113.6 1050.2,113.6 1051.1,113.6 1052.1,113.6 1053.1,113.6 1054.0,113.6 1055.0,113.6 1056.0,113.6 1057.0,113.6 1057.9,113.6 1058.9,113.6 1059.9,113.6 1060.8,113.6 1061.8,113.6 1062.8,113.6 1063.8,113.6 1064.7,113.6 1065.7,113.6 1066.7,113.6 1066.9,111.1 1067.9,111.1 1068.9,111.1 1069.8,111.1 1070.8,111.1 1071.8,111.1 1072.8,111.1 1073.7,111.1 1074.7,111.1 1075.7,111.1 1076.6,111.1 1077.6,111.1 1078.6,111.1 1079.6,111.1 1080.5,111.1 1081.5,111.1 1082.5,111.1 1083.4,111.1 1084.4,111.1 1085.4,111.1 1086.4,111.1 1087.3,111.1 1088.3,111.1 1089.3,111.1 1090.2,111.1 1091.2,111.1 1092.2,111.1 1093.2,111.1 1094.1,111.1 1095.1,111.1 1096.1,111.1 1097.0,111.1 1098.0,111.1 1098.5,111.1" fill="none" stroke="#FF00FF" stroke-width="1" marker-start="url(#m2)" marker-mid="url(#m2)" marker-end="url(#m2)"/>
<polyline points="103.5,765.5 104.5,765.5 105.4,765.5 106.4,765.5 107.4,765.5 108.4,765.5 109.3,765.5 110.3,765.5 111.3,765.5 112.2,765.5 113.2,765.5 113.5,762.9 113.7,760.4 113.9,757.8 114.2,755.2 114.4,752.7 114.7,750.1 114.9,747.5 115.2,745.0 115.4,742.4 115.6,739.8 115.9,737.3 116.1,734.7 116.4,732.1 116.6,729.6 116.9,727.0 117.1,724.4 117.3,721.9 117.6,719.3 117.8,716.7 118.1,714.2 118.3,711.6 118.6,709.0 118.8,706.5 119.0,703.9 119.3,701.3 119.5,698.8 119.8,696.2 120.0,693.6 120.3,691.1 120.5,688.5 120.7,685.9 121.0,683.4 121.2,680.8 121.5,678.2 121.7,675.7 122.0,673.1 122.2,670.5 122.4,668.0 122.7,665.4 122.9,662.8 123.2,660.3 123.4,657.7 123.7,655.1 123.9,652.6 124.1,650.0 124.4,647.4 124.6,644.9 124.9,642.3 125.1,639.7 125.4,637.2 125.6,634.6 125.8,632.0 126.1,629.5 126.3,626.9 126.6,624.3 126.8,621.8 127.1,619.2 127.3,616.6 127.5,614.1 127.8,614.1 128.0,611.5 128.3,611.5 128.5,608.9 128.8,608.9 129.0,606.4 129.2,606.4 129.5,603.8 129.7,603.8 130.0,601.2 130.2,601.2 130.5,598.7 130.7,598.7 130.9,596.1 131.2,596.1 131.4,593.6 131.7,593.6 131.9,591.0 132.2,591.0 132.4,588.4 132.9,588.4 133.1,585.9 133.4,585.9 133.6,583.3 133.9,583.3 134.1,580.7 134.6,580.7 134.8,578.2 135.1,578.2 135.3,575.6 135.8,575.6 136.1,573.0 136.3,573.0 136.5,570.5 137.0,570.5 137.3,567.9 137.5,567.9 137.8,565.3 138.2,565.3 138.5,562.8 139.0,562.8 139.2,560.2 139.7,560.2 139.9,557.6 140.4,557.6 140.7,555.1 140.9,555.1 141.2,552.5 141.6,552.5 141.9,549.9 142.4,549.9 142.6,547.4 143.3,547.4 143.6,544.8 144.1,544.8 144.3,542.2 144.8,542.2 145.0,539.7 145.5,539.7 145.8,537.1 146.3,537.1 146.5,534.5 147.2,534.5 147.5,532.0 148.0,532.0 148.2,529.4 148.9,529.4 149.2,526.8 149.7,526.8 149.9,524.3 150.6,524.3 150.9,521.7 151.6,521.7 151.8,519.1 152.6,519.1 152.8,516.6 153.3,516.6 153.5,514.0 154.3,514.0 154.5,511.4 155.2,511.4 155.5,508.9 156.2,508.9 156.5,506.3 157.4,506.3 157.7,503.7 158.4,503.7 158.6,501.2 159.4,501.2 159.6,498.6 160.6,498.6 160.8,496.0 161.6,496.0 161.8,493.5 162.8,493.5 163.0,490.9 163.7,490.9 164.0,488.3 165.0,488.3 165.2,485.8 166.2,485.8 166.4,483.2 167.4,483.2 167.6,480.6 168.6,480.6 168.8,478.1 169.8,478.1 170.1,475.5 171.0,475.5 171.3,472.9 172.2,472.9 172.5,472.9 172.7,470.4 173.7,470.4 173.9,467.8 174.9,467.8 175.2,467.8 175.4,465.2 176.4,465.2 176.6,462.7 177.6,462.7 177.8,462.7 178.1,460.1 179.0,460.1 179.3,460.1 179.5,457.5 180.5,457.5 180.7,457.5 181.0,455.0 182.0,455.0 182.2,455.0 182.4,452.4 183.4,452.4 183.7,452.4 183.9,449.8 184.9,449.8 185.1,449.8 185.4,447.3 186.3,447.3 186.8,447.3 187.1,444.7 188.0,444.7 188.3,444.7 188.5,442.1 189.5,442.1 190.0,442.1 190.2,439.6 191.2,439.6 191.7,439.6 191.9,437.0 192.9,437.0 193.4,437.0 193.6,434.4 194.6,434.4 195.1,434.4 195.3,431.9 196.3,431.9 196.8,431.9 197.0,429.3 198.0,429.3 198.5,429.3 198.7,426.7 199.7,426.7 200.4,426.7 200.7,424.2 201.6,424.2 202.4,424.2 202.6,421.6 203.6,421.6 204.1,421.6 204.3,419.0 205.3,419.0 206.0,419.0 206.3,416.5 207.2,416.5 208.0,416.5 208.2,413.9 209.2,413.9 210.1,413.9 210.4,411.3 211.4,411.3 212.1,411.3 212.3,408.8 213.3,408.8 214.3,408.8 214.5,406.2 215.5,406.2 216.2,406.2 216.5,403.6 217.4,403.6 218.4,403.6 218.6,401.1 219.6,401.1 220.6,401.1 220.8,398.5 221.8,398.5 222.8,398.5 223.0,398.5 223.3,395.9 224.2,395.9 225.2,395.9 225.4,393.4 226.4,393.4 227.4,393.4 227.6,393.4 227.9,390.8 228.8,390.8 229.8,390.8 230.1,388.2 231.0,388.2 232.0,388.2 232.2,388.2 232.5,385.7 233.5,385.7 234.4,385.7 234.7,385.7 234.9,383.1 235.9,383.1 236.9,383.1 237.3,383.1 237.6,380.5 238.6,380.5 239.5,380.5 239.8,380.5 240.0,378.0 241.0,378.0 242.0,378.0 242.5,378.0 242.7,375.4 243.7,375.4 244.6,375.4 245.1,375.4 245.4,372.8 246.3,372.8 247.3,372.8 247.8,372.8 248.0,370.3 249.0,370.3 250.0,370.3 250.5,370.3 250.7,367.7 251.7,367.7 252.7,367.7 253.4,367.7 253.6,365.1 254.6,365.1 255.6,365.1 256.3,365.1 256.5,362.6 257.5,362.6 258.5,362.6 259.2,362.6 259.5,360.0 260.4,360.0 261.4,360.0 262.1,360.0 262.4,357.4 263.3,357.4 264.3,357.4 265.3,357.4 265.5,354.9 266.5,354.9 267.5,354.9 268.2,354.9 268.4,352.3 269.4,352.3 270.4,352.3 271.4,352.3 271.6,349.7 272.6,349.7 273.5,349.7 274.5,349.7 274.8,349.7 275.0,347.2 276.0,347.2 276.9,347.2 277.9,347.2 278.2,344.6 279.1,344.6 280.1,344.6 281.1,344.6 281.3,344.6 281.6,342.0 282.5,342.0 283.5,342.0 284.5,342.0 284.7,342.0 285.0,339.5 285.9,339.5 286.9,339.5 287.9,339.5 288.1,339.5 288.4,336.9 289.3,336.9 290.3,336.9 291.3,336.9 291.8,336.9 292.0,334.3 293.0,334.3 293.9,334.3 294.9,334.3 295.2,334.3 295.4,331.8 296.4,331.8 297.4,331.8 298.3,331.8 299.1,331.8 299.3,329.2 300.3,329.2 301.2,329.2 302.2,329.2 302.7,329.2 302.9,326.6 303.9,326.6 304.9,326.6 305.9,326.6 306.6,326.6 306.8,324.1 307.8,324.1 308.8,324.1 309.7,324.1 310.5,324.1 310.7,321.5 311.7,321.5 312.7,321.5 313.6,321.5 314.4,321.5 314.6,318.9 315.6,318.9 316.5,318.9 317.5,318.9 318.5,318.9 318.7,316.4 319.7,316.4 320.7,316.4 321.6,316.4 322.4,316.4 322.6,313.8 323.6,313.8 324.6,313.8 325.5,313.8 326.5,313.8 326.7,313.8 327.0,311.2 328.0,311.2 328.9,311.2 329.9,311.2 330.9,311.2 331.1,308.7 332.1,308.7 333.1,308.7 334.0,308.7 335.0,308.7 335.2,308.7 335.5,306.1 336.5,306.1 337.4,306.1 338.4,306.1 339.4,306.1 339.6,306.1 339.9,303.5 340.8,303.5 341.8,303.5 342.8,303.5 343.7,303.5 344.2,303.5 344.5,301.0 345.4,301.0 346.4,301.0 347.4,301.0 348.4,301.0 348.8,301.0 349.1,298.4 350.1,298.4 351.0,298.4 352.0,298.4 353.0,298.4 353.5,298.4 353.7,295.8 354.7,295.8 355.7,295.8 356.6,295.8 357.6,295.8 358.3,295.8 358.6,293.3 359.5,293.3 360.5,293.3 361.5,293.3 362.5,293.3 363.2,293.3 363.4,290.7 364.4,290.7 365.4,290.7 366.3,290.7 367.3,290.7 368.3,290.7 368.5,288.1 369.5,288.1 370.5,288.1 371.4,288.1 372.4,288.1 373.1,288.1 373.4,285.6 374.4,285.6 375.3,285.6 376.3,285.6 377.3,285.6 378.2,285.6 378.5,285.6 378.7,283.0 379.7,283.0 380.7,283.0 381.6,283.0 382.6,283.0 383.6,283.0 383.8,280.4 384.8,280.4 385.8,280.4 386.7,280.4 387.7,280.4 388.7,280.4 388.9,280.4 389.2,277.9 390.1,277.9 391.1,277.9 392.1,277.9 393.1,277.9 394.0,277.9 394.5,277.9 394.8,275.3 395.7,275.3 396.7,275.3 397.7,275.3 398.6,275.3 399.6,275.3 400.1,275.3 400.3,272.8 401.3,272.8 402.3,272.8 403.3,272.8 404.2,272.8 405.2,272.8 405.7,272.8 405.9,270.2 406.9,270.2 407.9,270.2 408.9,270.2 409.8,270.2 410.8,270.2 411.5,270.2 411.8,267.6 412.7,267.6 413.7,267.6 414.7,267.6 415.7,267.6 416.6,267.6 417.4,267.6 417.6,265.1 418.6,265.1 419.5,265.1 420.5,265.1 421.5,265.1 422.5,265.1 423.4,265.1 423.7,262.5 424.6,262.5 425.6,262.5 426.6,262.5 427.6,262.5 428.5,262.5 429.5,262.5 429.7,259.9 430.7,259.9 431.7,259.9 432.7,259.9 433.6,259.9 434.6,259.9 435.6,259.9 435.8,259.9 436.1,257.4 437.0,257.4 438.0,257.4 439.0,257.4 439.9,257.4 440.9,257.4 441.9,257.4 442.1,257.4 442.4,254.8 443.3,254.8 444.3,254.8 445.3,254.8 446.3,254.8 447.2,254.8 448.2,254.8 448.4,254.8 448.7,252.2 449.7,252.2 450.6,252.2 451.6,252.2 452.6,252.2 453.5,252.2 454.5,252.2 455.2,252.2 455.5,249.7 456.5,249.7 457.4,249.7 458.4,249.7 459.4,249.7 460.3,249.7 461.3,249.7 461.8,249.7 462.0,247.1 463.0,247.1 464.0,247.1 465.0,247.1 465.9,247.1 466.9,247.1 467.9,247.1 468.9,247.1 469.1,244.5 470.1,244.5 471.0,244.5 472.0,244.5 473.0,244.5 474.0,244.5 474.9,244.5 475.7,244.5 475.9,242.0 476.9,242.0 477.8,242.0 478.8,242.0 479.8,242.0 480.8,242.0 481.7,242.0 482.7,242.0 482.9,242.0 483.2,239.4 484.2,239.4 485.1,239.4 486.1,239.4 487.1,239.4 488.0,239.4 489.0,239.4 490.0,239.4 490.2,239.4 490.5,236.8 491.4,236.8 492.4,236.8 493.4,236.8 494.4,236.8 495.3,236.8 496.3,236.8 497.3,236.8 497.5,236.8 497.8,234.3 498.7,234.3 499.7,234.3 500.7,234.3 501.6,234.3 502.6,234.3 503.6,234.3 504.6,234.3 505.0,234.3 505.3,231.7 506.3,231.7 507.2,231.7 508.2,231.7 509.2,231.7 510.1,231.7 511.1,231.7 512.1,231.7 512.8,231.7 513.1,229.1 514.0,229.1 515.0,229.1 516.0,229.1 516.9,229.1 517.9,229.1 518.9,229.1 519.9,229.1 520.6,229.1 520.8,226.6 521.8,226.6 522.8,226.6 523.8,226.6 524.7,226.6 525.7,226.6 526.7,226.6 527.6,226.6 528.6,226.6 528.9,224.0 529.8,224.0 530.8,224.0 531.8,224.0 532.7,224.0 533.7,224.0 534.7,224.0 535.7,224.0 536.6,224.0 536.9,221.4 537.8,221.4 538.8,221.4 539.8,221.4 540.8,221.4 541.7,221.4 542.7,221.4 543.7,221.4 544.6,221.4 544.9,221.4 545.1,218.9 546.1,218.9 547.1,218.9 548.0,218.9 549.0,218.9 550.0,218.9 551.0,218.9 551.9,218.9 552.9,218.9 553.4,218.9 553.6,216.3 554.6,216.3 555.6,216.3 556.5,216.3 557.5,216.3 558.5,216.3 559.5,216.3 560.4,216.3 561.4,216.3 561.9,216.3 562.1,213.7 563.1,213.7 564.1,213.7 565.0,213.7 566.0,213.7 567.0,213.7 568.0,213.7 568.9,213.7 569.9,213.7 570.6,213.7 570.9,211.2 571.8,211.2 572.8,211.2 573.8,211.2 574.8,211.2 575.7,211.2 576.7,211.2 577.7,211.2 578.7,211.2 579.6,211.2 579.9,208.6 580.8,208.6 581.8,208.6 582.8,208.6 583.8,208.6 584.7,208.6 585.7,208.6 586.7,208.6 587.6,208.6 588.6,208.6 588.9,208.6 589.1,206.0 590.1,206.0 591.0,206.0 592.0,206.0 593.0,206.0 594.0,206.0 594.9,206.0 595.9,206.0 596.9,206.0 597.8,206.0 598.1,206.0 598.3,203.5 599.3,203.5 600.3,203.5 601.2,203.5 602.2,203.5 603.2,203.5 604.2,203.5 605.1,203.5 606.1,203.5 607.1,203.5 607.6,203.5 607.8,200.9 608.8,200.9 609.7,200.9 610.7,200.9 611.7,200.9 612.7,200.9 613.6,200.9 614.6,200.9 615.6,200.9 616.5,200.9 617.3,200.9 617.5,198.3 618.5,198.3 619.5,198.3 620.4,198.3 621.4,198.3 622.4,198.3 623.3,198.3 624.3,198.3 625.3,198.3 626.3,198.3 627.0,198.3 627.2,195.8 628.2,195.8 629.2,195.8 630.2,195.8 631.1,195.8 632.1,195.8 633.1,195.8 634.0,195.8 635.0,195.8 636.0,195.8 637.0,195.8 637.2,193.2 638.2,193.2 639.1,193.2 640.1,193.2 641.1,193.2 642.1,193.2 643.0,193.2 644.0,193.2 645.0,193.2 645.9,193.2 646.9,193.2 647.2,193.2 647.4,190.6 648.4,190.6 649.3,190.6 650.3,190.6 651.3,190.6 652.3,190.6 653.2,190.6 654.2,190.6 655.2,190.6 656.1,190.6 657.1,190.6 657.6,190.6 657.8,188.1 658.8,188.1 659.8,188.1 660.8,188.1 661.7,188.1 662.7,188.1 663.7,188.1 664.6,188.1 665.6,188.1 666.6,188.1 667.6,188.1 668.3,188.1 668.5,185.5 669.5,185.5 670.5,185.5 671.4,185.5 672.4,185.5 673.4,185.5 674.4,185.5 675.3,185.5 676.3,185.5 677.3,185.5 678.2,185.5 679.0,185.5 679.2,182.9 680.2,182.9 681.2,182.9 682.1,182.9 683.1,182.9 684.1,182.9 685.1,182.9 686.0,182.9 687.0,182.9 688.0,182.9 688.9,182.9 689.9,182.9 690.2,180.4 691.1,180.4 692.1,180.4 693.1,180.4 694.0,180.4 695.0,180.4 696.0,180.4 697.0,180.4 697.9,180.4 698.9,180.4 699.9,180.4 700.8,180.4 701.3,180.4 701.6,177.8 702.5,177.8 703.5,177.8 704.5,177.8 705.5,177.8 706.4,177.8 707.4,177.8 708.4,177.8 709.3,177.8 710.3,177.8 711.3,177.8 712.3,177.8 712.7,177.8 713.0,175.2 714.0,175.2 714.9,175.2 715.9,175.2 716.9,175.2 717.8,175.2 718.8,175.2 719.8,175.2 720.8,175.2 721.7,175.2 722.7,175.2 723.7,175.2 724.4,175.2 724.6,172.7 725.6,172.7 726.6,172.7 727.6,172.7 728.5,172.7 729.5,172.7 730.5,172.7 731.4,172.7 732.4,172.7 733.4,172.7 734.4,172.7 735.3,172.7 736.1,172.7 736.3,170.1 737.3,170.1 738.2,170.1 739.2,170.1 740.2,170.1 741.2,170.1 742.1,170.1 743.1,170.1 744.1,170.1 745.1,170.1 746.0,170.1 747.0,170.1 748.0,170.1 748.2,170.1 748.5,167.5 749.4,167.5 750.4,167.5 751.4,167.5 752.3,167.5 753.3,167.5 754.3,167.5 755.3,167.5 756.2,167.5 757.2,167.5 758.2,167.5 759.1,167.5 760.1,167.5 760.6,167.5 760.8,165.0 761.8,165.0 762.8,165.0 763.8,165.0 764.7,165.0 765.7,165.0 766.7,165.0 767.6,165.0 768.6,165.0 769.6,165.0 770.6,165.0 771.5,165.0 772.5,165.0 773.2,165.0 773.5,162.4 774.4,162.4 775.4,162.4 776.4,162.4 777.4,162.4 778.3,162.4 779.3,162.4 780.3,162.4 781.2,162.4 782.2,162.4 783.2,162.4 784.2,162.4 785.1,162.4 785.9,162.4 786.1,159.8 787.1,159.8 788.0,159.8 789.0,159.8 790.0,159.8 791.0,159.8 791.9,159.8 792.9,159.8 793.9,159.8 794.9,159.8 795.8,159.8 796.8,159.8 797.8,159.8 798.7,159.8 799.0,159.8 799.2,157.3 800.2,157.3 801.2,157.3 802.1,157.3 803.1,157.3 804.1,157.3 805.1,157.3 806.0,157.3 807.0,157.3 808.0,157.3 808.9,157.3 809.9,157.3 810.9,157.3 811.9,157.3 812.3,157.3 812.6,154.7 813.6,154.7 814.5,154.7 815.5,154.7 816.5,154.7 817.4,154.7 818.4,154.7 819.4,154.7 820.4,154.7 821.3,154.7 822.3,154.7 823.3,154.7 824.2,154.7 825.2,154.7 825.9,154.7 826.2,152.1 827.2,152.1 828.1,152.1 829.1,152.1 830.1,152.1 831.0,152.1 832.0,152.1 833.0,152.1 834.0,152.1 834.9,152.1 835.9,152.1 836.9,152.1 837.8,152.1 838.8,152.1 839.8,152.1 840.0,149.6 841.0,149.6 842.0,149.6 842.9,149.6 843.9,149.6 844.9,149.6 845.9,149.6 846.8,149.6 847.8,149.6 848.8,149.6 849.8,149.6 850.7,149.6 851.7,149.6 852.7,149.6 853.6,149.6 853.9,149.6 854.1,147.0 855.1,147.0 856.1,147.0 857.0,147.0 858.0,147.0 859.0,147.0 860.0,147.0 860.9,147.0 861.9,147.0 862.9,147.0 863.8,147.0 864.8,147.0 865.8,147.0 866.8,147.0 867.7,147.0 868.2,147.0 868.5,144.4 869.4,144.4 870.4,144.4 871.4,144.4 872.3,144.4 873.3,144.4 874.3,144.4 875.3,144.4 876.2,144.4 877.2,144.4 878.2,144.4 879.1,144.4 880.1,144.4 881.1,144.4 882.1,144.4 882.8,144.4 883.0,141.9 884.0,141.9 885.0,141.9 885.9,141.9 886.9,141.9 887.9,141.9 888.9,141.9 889.8,141.9 890.8,141.9 891.8,141.9 892.7,141.9 893.7,141.9 894.7,141.9 895.7,141.9 896.6,141.9 897.6,141.9 897.8,139.3 898.8,139.3 899.8,139.3 900.8,139.3 901.7,139.3 902.7,139.3 903.7,139.3 904.6,139.3 905.6,139.3 906.6,139.3 907.6,139.3 908.5,139.3 909.5,139.3 910.5,139.3 911.5,139.3 912.4,139.3 912.9,139.3 913.2,136.7 914.1,136.7 915.1,136.7 916.1,136.7 917.0,136.7 918.0,136.7 919.0,136.7 920.0,136.7 920.9,136.7 921.9,136.7 922.9,136.7 923.8,136.7 924.8,136.7 925.8,136.7 926.8,136.7 927.7,136.7 928.2,136.7 928.5,134.2 929.4,134.2 930.4,134.2 931.4,134.2 932.3,134.2 933.3,134.2 934.3,134.2 935.3,134.2 936.2,134.2 937.2,134.2 938.2,134.2 939.1,134.2 940.1,134.2 941.1,134.2 942.1,134.2 943.0,134.2 944.0,134.2 944.2,131.6 945.2,131.6 946.2,131.6 947.2,131.6 948.1,131.6 949.1,131.6 950.1,131.6 951.0,131.6 952.0,131.6 953.0,131.6 954.0,131.6 954.9,131.6 955.9,131.6 956.9,131.6 957.8,131.6 958.8,131.6 959.8,131.6 960.0,131.6 960.3,129.0 961.3,129.0 962.2,129.0 963.2,129.0 964.2,129.0 965.1,129.0 966.1,129.0 967.1,129.0 968.1,129.0 969.0,129.0 970.0,129.0 971.0,129.0 971.9,129.0 972.9,129.0 973.9,129.0 974.9,129.0 975.8,129.0 976.6,129.0 976.8,126.5 977.8,126.5 978.7,126.5 979.7,126.5 980.7,126.5 981.7,126.5 982.6,126.5 983.6,126.5 984.6,126.5 985.5,126.5 986.5,126.5 987.5,126.5 988.5,126.5 989.4,126.5 990.4,126.5 991.4,126.5 992.3,126.5 993.3,126.5 993.6,123.9 994.5,123.9 995.5,123.9 996.5,123.9 997.4,123.9 998.4,123.9 999.4,123.9 1000.4,123.9 1001.3,123.9 1002.3,123.9 1003.3,123.9 1004.2,123.9 1005.2,123.9 1006.2,123.9 1007.2,123.9 1008.1,123.9 1009.1,123.9 1010.1,123.9 1010.3,123.9 1010.6,121.3 1011.5,121.3 1012.5,121.3 1013.5,121.3 1014.4,121.3 1015.4,121.3 1016.4,121.3 1017.4,121.3 1018.3,121.3 1019.3,121.3 1020.3,121.3 1021.3,121.3 1022.2,121.3 1023.2,121.3 1024.2,121.3 1025.1,121.3 1026.1,121.3 1027.1,121.3 1027.6,121.3 1027.8,118.8 1028.8,118.8 1029.8,118.8 1030.7,118.8 1031.7,118.8 1032.7,118.8 1033.6,118.8 1034.6,118.8 1035.6,118.8 1036.6,118.8 1037.5,118.8 1038.5,118.8 1039.5,118.8 1040.4,118.8 1041.4,118.8 1042.4,118.8 1043.4,118.8 1044.3,118.8 1045.3,118.8 1045.5,116.2 1046.5,116.2 1047.5,116.2 1048.5,116.2 1049.4,116.2 1050.4,116.2 1051.4,116.2 1052.3,116.2 1053.3,116.2 1054.3,116.2 1055.3,116.2 1056.2,116.2 1057.2,116.2 1058.2,116.2 1059.1,116.2 1060.1,116.2 1061.1,116.2 1062.1,116.2 1063.0,116.2 1063.3,116.2 1063.5,113.6 1064.5,113.6 1065.5,113.6 1066.4,113.6 1067.4,113.6 1068.4,113.6 1069.3,113.6 1070.3,113.6 1071.3,113.6 1072.3,113.6 1073.2,113.6 1074.2,113.6 1075.2,113.6 1076.2,113.6 1077.1,113.6 1078.1,113.6 1079.1,113.6 1080.0,113.6 1081.0,113.6 1081.5,113.6 1081.7,111.1 1082.7,111.1 1083.7,111.1 1084.7,111.1 1085.6,111.1 1086.6,111.1 1087.6,111.1 1088.5,111.1 1089.5,111.1 1090.5,111.1 1091.5,111.1 1092.4,111.1 1093.4,111.1 1094.4,111.1 1095.3,111.1 1096.3,111.1 1097.3,111.1 1098.3,111.1 1098.5,111.1" fill="none" stroke="#FFFF00" stroke-width="1" marker-start="url(#m3)" marker-mid="url(#m3)" marker-end="url(#m3)"/>
<polyline points="103.5,765.5 104.5,765.5 105.4,765.5 106.4,765.5 107.4,765.5 108.4,765.5 109.3,765.5 110.3,765.5 111.3,765.5 112.2,765.5 113.2,765.5 113.5,762.9 113.7,760.4 113.9,757.8 114.2,755.2 114.4,752.7 114.7,750.1 114.9,747.5 115.2,745.0 115.4,742.4 115.6,739.8 115.9,737.3 116.1,734.7 116.4,732.1 116.6,729.6 116.9,727.0 117.1,724.4 117.3,724.4 117.6,721.9 118.1,721.9 118.3,719.3 118.6,719.3 118.8,716.7 119.0,716.7 119.3,714.2 119.8,714.2 120.0,711.6 120.3,711.6 120.5,709.0 121.0,709.0 121.2,706.5 121.7,706.5 122.0,703.9 122.4,703.9 122.7,701.3 123.2,701.3 123.4,698.8 124.1,698.8 124.4,696.2 124.9,696.2 125.1,693.6 125.8,693.6 126.1,691.1 126.6,691.1 126.8,688.5 127.5,688.5 127.8,685.9 128.5,685.9 128.8,683.4 129.5,683.4 129.7,680.8 130.5,680.8 130.7,678.2 131.4,678.2 131.7,675.7 132.7,675.7 132.9,673.1 133.6,673.1 133.9,670.5 134.8,670.5 135.1,668.0 136.1,668.0 136.3,665.4 137.3,665.4 137.5,662.8 138.5,662.8 138.7,660.3 139.7,660.3 139.9,657.7 140.9,657.7 141.2,655.1 142.1,655.1 142.4,652.6 143.3,652.6 143.6,652.6 143.8,650.0 144.8,650.0 145.0,647.4 146.0,647.4 146.3,647.4 146.5,644.9 147.5,644.9 147.7,644.9 148.0,642.3 148.9,642.3 149.2,642.3 149.4,639.7 150.4,639.7 150.6,639.7 150.9,637.2 151.8,637.2 152.1,637.2 152.3,634.6 153.3,634.6 153.8,634.6 154.0,632.0 155.0,632.0 155.2,632.0 155.5,629.5 156.5,629.5 156.9,629.5 157.2,626.9 158.2,626.9 158.6,626.9 158.9,624.3 159.9,624.3 160.3,624.3 160.6,621.8 161.6,621.8 162.0,621.8 162.3,619.2 163.3,619.2 163.7,619.2 164.0,616.6 165.0,616.6 165.4,616.6 165.7,614.1 166.7,614.1 167.1,614.1 167.4,611.5 168.4,611.5 169.1,611.5 169.3,608.9 170.3,608.9 170.8,608.9 171.0,606.4 172.0,606.4 172.7,606.4 173.0,603.8 173.9,603.8 174.7,603.8 174.9,601.2 175.9,601.2 176.6,601.2 176.9,598.7 177.8,598.7 178.6,598.7 178.8,596.1 179.8,596.1 180.5,596.1 180.7,593.6 181.7,593.6 182.7,593.6 182.9,591.0 183.9,591.0 184.6,591.0 184.9,588.4 185.8,588.4 186.8,588.4 187.1,585.9 188.0,585.9 188.8,585.9 189.0,583.3 190.0,583.3 191.0,583.3 191.2,580.7 192.2,580.7 193.1,580.7 193.4,578.2 194.4,578.2 195.3,578.2 195.6,575.6 196.5,575.6 197.5,575.6 197.8,575.6 198.0,573.0 199.0,573.0 199.9,573.0 200.2,570.5 201.2,570.5 202.1,570.5 202.4,567.9 203.3,567.9 204.3,567.9 204.6,567.9 204.8,565.3 205.8,565.3 206.7,565.3 207.0,565.3 207.2,562.8 208.2,562.8 209.2,562.8 209.4,562.8 209.7,560.2 210.6,560.2 211.6,560.2 211.8,560.2 212.1,557.6 213.1,557.6 214.0,557.6 214.3,557.6 214.5,555.1 215.5,555.1 216.5,555.1 216.7,555.1 216.9,552.5 217.9,552.5 218.9,552.5 219.1,552.5 219.4,549.9 220.3,549.9 221.3,549.9 221.8,549.9 222.0,547.4 223.0,547.4 224.0,547.4 224.2,547.4 224.5,544.8 225.4,544.8 226.4,544.8 226.9,544.8 227.1,542.2 228.1,542.2 229.1,542.2 229.6,542.2 229.8,539.7 230.8,539.7 231.8,539.7 232.2,539.7 232.5,537.1 233.5,537.1 234.4,537.1 234.9,537.1 235.2,534.5 236.1,534.5 237.1,534.5 237.6,534.5 237.8,532.0 238.8,532.0 239.8,532.0 240.3,532.0 240.5,529.4 241.5,529.4 242.5,529.4 243.2,529.4 243.4,526.8 244.4,526.8 245.4,526.8 245.9,526.8 246.1,524.3 247.1,524.3 248.0,524.3 248.8,524.3 249.0,521.7 250.0,521.7 251.0,521.7 251.7,521.7 251.9,519.1 252.9,519.1 253.9,519.1 254.6,519.1 254.8,516.6 255.8,516.6 256.8,516.6 257.5,516.6 257.8,514.0 258.7,514.0 259.7,514.0 260.4,514.0 260.7,511.4 261.6,511.4 262.6,511.4 263.3,511.4 263.6,508.9 264.6,508.9 265.5,508.9 266.5,508.9 266.7,506.3 267.7,506.3 268.7,506.3 269.4,506.3 269.7,503.7 270.6,503.7 271.6,503.7 272.6,503.7 272.8,501.2 273.8,501.2 274.8,501.2 275.7,501.2 276.0,498.6 276.9,498.6 277.9,498.6 278.9,498.6 279.1,496.0 280.1,496.0 281.1,496.0 282.0,496.0 282.3,493.5 283.3,493.5 284.2,493.5 285.2,493.5 285.4,490.9 286.4,490.9 287.4,490.9 288.4,490.9 288.6,488.3 289.6,488.3 290.5,488.3 291.5,488.3 291.8,488.3 292.0,485.8 293.0,485.8 293.9,485.8 294.9,485.8 295.2,483.2 296.1,483.2 297.1,483.2 298.1,483.2 298.3,483.2 298.6,480.6 299.5,480.6 300.5,480.6 301.5,480.6 301.7,480.6 302.0,478.1 302.9,478.1 303.9,478.1 304.9,478.1 305.1,478.1 305.4,475.5 306.3,475.5 307.3,475.5 308.3,475.5 308.5,475.5 308.8,472.9 309.7,472.9 310.7,472.9 311.7,472.9 311.9,472.9 312.2,470.4 313.1,470.4 314.1,470.4 315.1,470.4 315.3,470.4 315.6,467.8 316.5,467.8 317.5,467.8 318.5,467.8 319.0,467.8 319.2,465.2 320.2,465.2 321.2,465.2 322.1,465.2 322.4,465.2 322.6,462.7 323.6,462.7 324.6,462.7 325.5,462.7 326.0,462.7 326.3,460.1 327.2,460.1 328.2,460.1 329.2,460.1 329.7,460.1 329.9,457.5 330.9,457.5 331.8,457.5 332.8,457.5 333.3,457.5 333.5,455.0 334.5,455.0 335.5,455.0 336.5,455.0 336.9,455.0 337.2,452.4 338.2,452.4 339.1,452.4 340.1,452.4 340.6,452.4 340.8,449.8 341.8,449.8 342.8,449.8 343.7,449.8 344.2,449.8 344.5,447.3 345.4,447.3 346.4,447.3 347.4,447.3 348.1,447.3 348.4,444.7 349.3,444.7 350.3,444.7 351.3,444.7 351.8,444.7 352.0,442.1 353.0,442.1 354.0,442.1 354.9,442.1 355.7,442.1 355.9,439.6 356.9,439.6 357.8,439.6 358.8,439.6 359.3,439.6 359.5,437.0 360.5,437.0 361.5,437.0 362.5,437.0 363.2,437.0 363.4,434.4 364.4,434.4 365.4,434.4 366.3,434.4 367.1,434.4 367.3,431.9 368.3,431.9 369.3,431.9 370.2,431.9 371.2,431.9 371.4,429.3 372.4,429.3 373.4,429.3 374.4,429.3 375.1,429.3 375.3,426.7 376.3,426.7 377.3,426.7 378.2,426.7 379.0,426.7 379.2,424.2 380.2,424.2 381.2,424.2 382.1,424.2 383.1,424.2 383.3,421.6 384.3,421.6 385.3,421.6 386.3,421.6 387.0,421.6 387.2,419.0 388.2,419.0 389.2,419.0 390.1,419.0 391.1,419.0 391.4,416.5 392.3,416.5 393.3,416.5 394.3,416.5 395.2,416.5 395.5,413.9 396.5,413.9 397.4,413.9 398.4,413.9 399.4,413.9 399.6,411.3 400.6,411.3 401.6,411.3 402.5,411.3 403.5,411.3 403.7,408.8 404.7,408.8 405.7,408.8 406.7,408.8 407.6,408.8 407.9,408.8 408.1,406.2 409.1,406.2 410.1,406.2 411.0,406.2 412.0,406.2 412.3,403.6 413.2,403.6 414.2,403.6 415.2,403.6 416.1,403.6 416.4,401.1 417.4,401.1 418.3,401.1 419.3,401.1 420.3,401.1 420.5,401.1 420.8,398.5 421.7,398.5 422.7,398.5 423.7,398.5 424.6,398.5 424.9,398.5 425.1,395.9 426.1,395.9 427.1,395.9 428.0,395.9 429.0,395.9 429.3,395.9 429.5,393.4 430.5,393.4 431.4,393.4 432.4,393.4 433.4,393.4 433.6,393.4 433.9,390.8 434.8,390.8 435.8,390.8 436.8,390.8 437.8,390.8 438.0,390.8 438.2,388.2 439.2,388.2 440.2,388.2 441.2,388.2 442.1,388.2 442.4,388.2 442.6,385.7 443.6,385.7 444.6,385.7 445.5,385.7 446.5,385.7 447.0,385.7 447.2,383.1 448.2,383.1 449.2,383.1 450.1,383.1 451.1,383.1 451.4,383.1 451.6,380.5 452.6,380.5 453.5,380.5 454.5,380.5 455.5,380.5 456.0,380.5 456.2,378.0 457.2,378.0 458.2,378.0 459.1,378.0 460.1,378.0 460.3,378.0 460.6,375.4 461.6,375.4 462.5,375.4 463.5,375.4 464.5,375.4 465.0,375.4 465.2,372.8 466.2,372.8 467.2,372.8 468.1,372.8 469.1,372.8 469.6,372.8 469.8,370.3 470.8,370.3 471.8,370.3 472.7,370.3 473.7,370.3 474.2,370.3 474.4,367.7 475.4,367.7 476.4,367.7 477.4,367.7 478.3,367.7 479.1,367.7 479.3,365.1 480.3,365.1 481.2,365.1 482.2,365.1 483.2,365.1 483.7,365.1 483.9,362.6 484.9,362.6 485.9,362.6 486.8,362.6 487.8,362.6 488.5,362.6 488.8,360.0 489.7,360.0 490.7,360.0 491.7,360.0 492.7,360.0 493.1,360.0 493.4,357.4 494.4,357.4 495.3,357.4 496.3,357.4 497.3,357.4 498.0,357.4 498.2,354.9 499.2,354.9 500.2,354.9 501.2,354.9 502.1,354.9 502.9,354.9 503.1,352.3 504.1,352.3 505.0,352.3 506.0,352.3 507.0,352.3 507.7,352.3 508.0,349.7 508.9,349.7 509.9,349.7 510.9,349.7 511.8,349.7 512.6,349.7 512.8,347.2 513.8,347.2 514.8,347.2 515.7,347.2 516.7,347.2 517.4,347.2 517.7,344.6 518.7,344.6 519.6,344.6 520.6,344.6 521.6,344.6 522.3,344.6 522.5,342.0 523.5,342.0 524.5,342.0 525.5,342.0 526.4,342.0 527.4,342.0 527.6,339.5 528.6,339.5 529.6,339.5 530.6,339.5 531.5,339.5 532.5,339.5 532.7,336.9 533.7,336.9 534.7,336.9 535.7,336.9 536.6,336.9 537.4,336.9 537.6,334.3 538.6,334.3 539.5,334.3 540.5,334.3 541.5,334.3 542.5,334.3 542.7,331.8 543.7,331.8 544.6,331.8 545.6,331.8 546.6,331.8 547.6,331.8 547.8,329.2 548.8,329.2 549.7,329.2 550.7,329.2 551.7,329.2 552.7,329.2 552.9,326.6 553.9,326.6 554.8,326.6 555.8,326.6 556.8,326.6 557.8,326.6 558.0,324.1 559.0,324.1 559.9,324.1 560.9,324.1 561.9,324.1 562.9,324.1 563.1,324.1 563.3,321.5 564.3,321.5 565.3,321.5 566.3,321.5 567.2,321.5 568.2,321.5 568.4,318.9 569.4,318.9 570.4,318.9 571.4,318.9 572.3,318.9 573.3,318.9 573.6,318.9 573.8,316.4 574.8,316.4 575.7,316.4 576.7,316.4 577.7,316.4 578.7,316.4 578.9,316.4 579.1,313.8 580.1,313.8 581.1,313.8 582.1,313.8 583.0,313.8 584.0,313.8 584.2,311.2 585.2,311.2 586.2,311.2 587.2,311.2 588.1,311.2 589.1,311.2 589.3,311.2 589.6,308.7 590.6,308.7 591.5,308.7 592.5,308.7 593.5,308.7 594.4,308.7 594.9,308.7 595.2,306.1 596.1,306.1 597.1,306.1 598.1,306.1 599.1,306.1 600.0,306.1 600.3,306.1 600.5,303.5 601.5,303.5 602.5,303.5 603.4,303.5 604.4,303.5 605.4,303.5 605.6,303.5 605.9,301.0 606.8,301.0 607.8,301.0 608.8,301.0 609.7,301.0 610.7,301.0 611.2,301.0 611.4,298.4 612.4,298.4 613.4,298.4 614.4,298.4 615.3,298.4 616.3,298.4 616.5,298.4 616.8,295.8 617.8,295.8 618.7,295.8 619.7,295.8 620.7,295.8 621.6,295.8 622.1,295.8 622.4,293.3 623.3,293.3 624.3,293.3 625.3,293.3 626.3,293.3 627.2,293.3 627.7,293.3 628.0,290.7 628.9,290.7 629.9,290.7 630.9,290.7 631.9,290.7 632.8,290.7 633.3,290.7 633.6,288.1 634.5,288.1 635.5,288.1 636.5,288.1 637.4,288.1 638.4,288.1 638.9,288.1 639.1,285.6 640.1,285.6 641.1,285.6 642.1,285.6 643.0,285.6 644.0,285.6 644.5,285.6 644.7,283.0 645.7,283.0 646.7,283.0 647.6,283.0 648.6,283.0 649.6,283.0 650.1,283.0 650.3,280.4 651.3,280.4 652.3,280.4 653.2,280.4 654.2,280.4 655.2,280.4 655.9,280.4 656.1,277.9 657.1,277.9 658.1,277.9 659.1,277.9 660.0,277.9 661.0,277.9 661.5,277.9 661.7,275.3 662.7,275.3 663.7,275.3 664.6,275.3 665.6,275.3 666.6,275.3 667.3,275.3 667.6,272.8 668.5,272.8 669.5,272.8 670.5,272.8 671.4,272.8 672.4,272.8 673.1,272.8 673.4,270.2 674.4,270.2 675.3,270.2 676.3,270.2 677.3,270.2 678.2,270.2 679.0,270.2 679.2,267.6 680.2,267.6 681.2,267.6 682.1,267.6 683.1,267.6 684.1,267.6 684.8,267.6 685.1,265.1 686.0,265.1 687.0,265.1 688.0,265.1 688.9,265.1 689.9,265.1 690.6,265.1 690.9,262.5 691.9,262.5 692.8,262.5 693.8,262.5 694.8,262.5 695.7,262.5 696.5,262.5 696.7,259.9 697.7,259.9 698.7,259.9 699.6,259.9 700.6,259.9 701.6,259.9 702.5,259.9 702.8,257.4 703.8,257.4 704.7,257.4 705.7,257.4 706.7,257.4 707.6,257.4 708.4,257.4 708.6,254.8 709.6,254.8 710.6,254.8 711.5,254.8 712.5,254.8 713.5,254.8 714.4,254.8 714.7,252.2 715.7,252.2 716.6,252.2 717.6,252.2 718.6,252.2 719.5,252.2 720.5,252.2 720.8,249.7 721.7,249.7 722.7,249.7 723.7,249.7 724.6,249.7 725.6,249.7 726.6,249.7 726.8,247.1 727.8,247.1 728.8,247.1 729.7,247.1 730.7,247.1 731.7,247.1 732.7,247.1 732.9,244.5 733.9,244.5 734.8,244.5 735.8,244.5 736.8,244.5 737.8,244.5 738.7,244.5 739.0,242.0 740.0,242.0 740.9,242.0 741.9,242.0 742.9,242.0 743.8,242.0 744.8,242.0 745.1,239.4 746.0,239.4 747.0,239.4 748.0,239.4 748.9,239.4 749.9,239.4 750.9,239.4 751.1,239.4 751.4,236.8 752.3,236.8 753.3,236.8 754.3,236.8 755.3,236.8 756.2,236.8 757.2,236.8 757.4,234.3 758.4,234.3 759.4,234.3 760.4,234.3 761.3,234.3 762.3,234.3 763.3,234.3 763.5,234.3 763.8,231.7 764.7,231.7 765.7,231.7 766.7,231.7 767.6,231.7 768.6,231.7 769.6,231.7 769.8,231.7 770.1,229.1 771.0,229.1 772.0,229.1 773.0,229.1 774.0,229.1 774.9,229.1 775.9,229.1 776.1,229.1 776.4,226.6 777.4,226.6 778.3,226.6 779.3,226.6 780.3,226.6 781.2,226.6 782.2,226.6 782.5,226.6 782.7,224.0 783.7,224.0 784.6,224.0 785.6,224.0 786.6,224.0 787.6,224.0 788.5,224.0 788.8,224.0 789.0,221.4 790.0,221.4 791.0,221.4 791.9,221.4 792.9,221.4 793.9,221.4 794.9,221.4 795.1,221.4 795.3,218.9 796.3,218.9 797.3,218.9 798.3,218.9 799.2,218.9 800.2,218.9 801.2,218.9 801.7,218.9 801.9,216.3 802.9,216.3 803.8,216.3 804.8,216.3 805.8,216.3 806.8,216.3 807.7,216.3 808.0,216.3 808.2,213.7 809.2,213.7 810.2,213.7 811.1,213.7 812.1,213.7 813.1,213.7 814.0,213.7 814.5,213.7 814.8,211.2 815.7,211.2 816.7,211.2 817.7,211.2 818.7,211.2 819.6,211.2 820.6,211.2 821.1,211.2 821.3,208.6 822.3,208.6 823.3,208.6 824.2,208.6 825.2,208.6 826.2,208.6 827.2,208.6 827.6,208.6 827.9,206.0 828.9,206.0 829.8,206.0 830.8,206.0 831.8,206.0 832.7,206.0 833.7,206.0 834.2,206.0 834.4,203.5 835.4,203.5 836.4,203.5 837.4,203.5 838.3,203.5 839.3,203.5 840.3,203.5 840.8,203.5 841.0,200.9 842.0,200.9 842.9,200.9 843.9,200.9 844.9,200.9 845.9,200.9 846.8,200.9 847.3,200.9 847.6,198.3 848.5,198.3 849.5,198.3 850.5,198.3 851.5,198.3 852.4,198.3 853.4,198.3 854.1,198.3 854.4,195.8 855.3,195.8 856.3,195.8 857.3,195.8 858.3,195.8 859.2,195.8 860.2,195.8 860.7,195.8 860.9,193.2 861.9,193.2 862.9,193.2 863.8,193.2 864.8,193.2 865.8,193.2 866.8,193.2 867.5,193.2 867.7,190.6 868.7,190.6 869.7,190.6 870.6,190.6 871.6,190.6 872.6,190.6 873.6,190.6 874.3,190.6 874.5,188.1 875.5,188.1 876.5,188.1 877.4,188.1 878.4,188.1 879.4,188.1 880.4,188.1 881.1,188.1 881.3,185.5 882.3,185.5 883.3,185.5 884.2,185.5 885.2,185.5 886.2,185.5 887.2,185.5 887.9,185.5 888.1,182.9 889.1,182.9 890.1,182.9 891.0,182.9 892.0,182.9 893.0,182.9 894.0,182.9 894.7,182.9 894.9,180.4 895.9,180.4 896.9,180.4 897.8,180.4 898.8,180.4 899.8,180.4 900.8,180.4 901.5,180.4 901.7,177.8 902.7,177.8 903.7,177.8 904.6,177.8 905.6,177.8 906.6,177.8 907.6,177.8 908.3,177.8 908.5,175.2 909.5,175.2 910.5,175.2 911.5,175.2 912.4,175.2 913.4,175.2 914.4,175.2 915.3,175.2 915.6,172.7 916.6,172.7 917.5,172.7 918.5,172.7 919.5,172.7 920.4,172.7 921.4,172.7 922.4,172.7 922.6,170.1 923.6,170.1 924.6,170.1 925.5,170.1 926.5,170.1 927.5,170.1 928.5,170.1 929.2,170.1 929.4,167.5 930.4,167.5 931.4,167.5 932.3,167.5 933.3,167.5 934.3,167.5 935.3,167.5 936.2,167.5 936.5,165.0 937.4,165.0 938.4,165.0 939.4,165.0 940.4,165.0 941.3,165.0 942.3,165.0 943.3,165.0 943.5,162.4 944.5,162.4 945.5,162.4 946.4,162.4 947.4,162.4 948.4,162.4 949.3,162.4 950.3,162.4 950.6,162.4 950.8,159.8 951.8,159.8 952.7,159.8 953.7,159.8 954.7,159.8 955.7,159.8 956.6,159.8 957.6,159.8 957.8,157.3 958.8,157.3 959.8,157.3 960.8,157.3 961.7,157.3 962.7,157.3 963.7,157.3 964.7,157.3 964.9,154.7 965.9,154.7 966.8,154.7 967.8,154.7 968.8,154.7 969.8,154.7 970.7,154.7 971.7,154.7 971.9,154.7 972.2,152.1 973.2,152.1 974.1,152.1 975.1,152.1 976.1,152.1 977.0,152.1 978.0,152.1 979.0,152.1 979.2,149.6 980.2,149.6 981.2,149.6 982.1,149.6 983.1,149.6 984.1,149.6 985.1,149.6 986.0,149.6 986.3,149.6 986.5,147.0 987.5,147.0 988.5,147.0 989.4,147.0 990.4,147.0 991.4,147.0 992.3,147.0 993.3,147.0 993.6,147.0 993.8,144.4 994.8,144.4 995.7,144.4 996.7,144.4 997.7,144.4 998.7,144.4 999.6,144.4 1000.6,144.4 1000.8,144.4 1001.1,141.9 1002.1,141.9 1003.0,141.9 1004.0,141.9 1005.0,141.9 1005.9,141.9 1006.9,141.9 1007.9,141.9 1008.1,141.9 1008.4,139.3 1009.3,139.3 1010.3,139.3 1011.3,139.3 1012.3,139.3 1013.2,139.3 1014.2,139.3 1015.2,139.3 1015.4,139.3 1015.7,136.7 1016.6,136.7 1017.6,136.7 1018.6,136.7 1019.6,136.7 1020.5,136.7 1021.5,136.7 1022.5,136.7 1023.0,136.7 1023.2,134.2 1024.2,134.2 1025.1,134.2 1026.1,134.2 1027.1,134.2 1028.1,134.2 1029.0,134.2 1030.0,134.2 1030.2,134.2 1030.5,131.6 1031.5,131.6 1032.4,131.6 1033.4,131.6 1034.4,131.6 1035.3,131.6 1036.3,131.6 1037.3,131.6 1037.8,131.6 1038.0,129.0 1039.0,129.0 1040.0,129.0 1040.9,129.0 1041.9,129.0 1042.9,129.0 1043.8,129.0 1044.8,129.0 1045.3,129.0 1045.5,126.5 1046.5,126.5 1047.5,126.5 1048.5,126.5 1049.4,126.5 1050.4,126.5 1051.4,126.5 1052.3,126.5 1052.8,126.5 1053.1,123.9 1054.0,123.9 1055.0,123.9 1056.0,123.9 1057.0,123.9 1057.9,123.9 1058.9,123.9 1059.9,123.9 1060.4,123.9 1060.6,121.3 1061.6,121.3 1062.5,121.3 1063.5,121.3 1064.5,121.3 1065.5,121.3 1066.4,121.3 1067.4,121.3 1067.9,121.3 1068.1,118.8 1069.1,118.8 1070.1,118.8 1071.1,118.8 1072.0,118.8 1073.0,118.8 1074.0,118.8 1074.9,118.8 1075.4,118.8 1075.7,116.2 1076.6,116.2 1077.6,116.2 1078.6,116.2 1079.6,116.2 1080.5,116.2 1081.5,116.2 1082.5,116.2 1083.0,116.2 1083.2,113.6 1084.2,113.6 1085.1,113.6 1086.1,113.6 1087.1,113.6 1088.1,113.6 1089.0,113.6 1090.0,113.6 1090.7,113.6 1091.0,111.1 1091.9,111.1 1092.9,111.1 1093.9,111.1 1094.9,111.1 1095.8,111.1 1096.8,111.1 1097.8,111.1 1098.5,111.1" fill="none" stroke="#00FFFF" stroke-width="1" marker-start="url(#m4)" marker-mid="url(#m4)" marker-end="url(#m4)"/>
<polyline points="103.5,765.5 104.5,765.5 105.4,765.5 106.4,765.5 107.4,765.5 108.4,765.5 109.3,765.5 110.3,765.5 111.3,765.5 112.2,765.5 113.2,765.5 113.5,762.9 113.7,760.4 113.9,757.8 114.2,755.2 114.4,752.7 114.7,750.1 114.9,747.5 115.2,745.0 115.4,742.4 115.6,739.8 115.9,737.3 116.1,734.7 116.4,732.1 116.6,729.6 116.9,727.0 117.1,724.4 117.3,721.9 117.6,719.3 117.8,716.7 118.1,714.2 118.3,714.2 118.6,711.6 119.0,711.6 119.3,709.0 119.8,709.0 120.0,706.5 120.5,706.5 120.7,703.9 121.5,703.9 121.7,701.3 122.2,701.3 122.4,698.8 123.2,698.8 123.4,696.2 124.1,696.2 124.4,693.6 125.1,693.6 125.4,691.1 126.1,691.1 126.3,688.5 127.1,688.5 127.3,685.9 128.3,685.9 128.5,683.4 129.5,683.4 129.7,680.8 130.5,680.8 130.7,678.2 131.7,678.2 131.9,675.7 132.9,675.7 133.1,673.1 134.1,673.1 134.4,670.5 135.3,670.5 135.6,670.5 135.8,668.0 136.8,668.0 137.0,665.4 138.0,665.4 138.2,665.4 138.5,662.8 139.5,662.8 139.7,662.8 139.9,660.3 140.9,660.3 141.2,657.7 142.1,657.7 142.4,657.7 142.6,655.1 143.6,655.1 144.1,655.1 144.3,652.6 145.3,652.6 145.5,652.6 145.8,650.0 146.7,650.0 147.0,650.0 147.2,647.4 148.2,647.4 148.7,647.4 148.9,644.9 149.9,644.9 150.1,644.9 150.4,642.3 151.4,642.3 151.8,642.3 152.1,639.7 153.1,639.7 153.5,639.7 153.8,637.2 154.8,637.2 155.2,637.2 155.5,634.6 156.5,634.6 156.9,634.6 157.2,632.0 158.2,632.0 158.6,632.0 158.9,629.5 159.9,629.5 160.3,629.5 160.6,626.9 161.6,626.9 162.0,626.9 162.3,624.3 163.3,624.3 164.0,624.3 164.2,621.8 165.2,621.8 165.9,621.8 166.2,619.2 167.1,619.2 167.6,619.2 167.9,616.6 168.8,616.6 169.6,616.6 169.8,614.1 170.8,614.1 171.5,614.1 171.8,611.5 172.7,611.5 173.5,611.5 173.7,608.9 174.7,608.9 175.4,608.9 175.6,606.4 176.6,606.4 177.6,606.4 177.8,603.8 178.8,603.8 179.5,603.8 179.8,601.2 180.7,601.2 181.5,601.2 181.7,598.7 182.7,598.7 183.7,598.7 183.9,596.1 184.9,596.1 185.8,596.1 186.1,593.6 187.1,593.6 188.0,593.6 188.3,591.0 189.3,591.0 190.2,591.0 190.5,588.4 191.4,588.4 192.4,588.4 192.7,585.9 193.6,585.9 194.6,585.9 194.8,583.3 195.8,583.3 196.8,583.3 197.0,580.7 198.0,580.7 199.0,580.7 199.2,580.7 199.5,578.2 200.4,578.2 201.4,578.2 201.6,575.6 202.6,575.6 203.6,575.6 203.8,575.6 204.1,573.0 205.0,573.0 206.0,573.0 206.3,573.0 206.5,570.5 207.5,570.5 208.4,570.5 208.7,570.5 208.9,567.9 209.9,567.9 210.9,567.9 211.1,567.9 211.4,565.3 212.3,565.3 213.3,565.3 213.5,565.3 213.8,562.8 214.8,562.8 215.7,562.8 216.0,562.8 216.2,560.2 217.2,560.2 218.2,560.2 218.4,560.2 218.6,557.6 219.6,557.6 220.6,557.6 221.1,557.6 221.3,555.1 222.3,555.1 223.3,555.1 223.7,555.1 224.0,552.5 225.0,552.5 225.9,552.5 226.2,552.5 226.4,549.9 227.4,549.9 228.4,549.9 228.8,549.9 229.1,547.4 230.1,547.4 231.0,547.4 231.5,547.4 231.8,544.8 232.7,544.8 233.7,544.8 234.2,544.8 234.4,542.2 235.4,542.2 236.4,542.2 236.9,542.2 237.1,539.7 238.1,539.7 239.0,539.7 239.8,539.7 240.0,537.1 241.0,537.1 242.0,537.1 242.5,537.1 242.7,534.5 243.7,534.5 244.6,534.5 245.4,534.5 245.6,532.0 246.6,532.0 247.6,532.0 248.0,532.0 248.3,529.4 249.3,529.4 250.2,529.4 251.0,529.4 251.2,526.8 252.2,526.8 253.1,526.8 253.9,526.8 254.1,524.3 255.1,524.3 256.1,524.3 256.8,524.3 257.0,521.7 258.0,521.7 259.0,521.7 259.7,521.7 259.9,519.1 260.9,519.1 261.9,519.1 262.9,519.1 263.1,516.6 264.1,516.6 265.0,516.6 265.8,516.6 266.0,514.0 267.0,514.0 268.0,514.0 268.9,514.0 269.2,511.4 270.1,511.4 271.1,511.4 271.8,511.4 272.1,508.9 273.1,508.9 274.0,508.9 275.0,508.9 275.2,506.3 276.2,506.3 277.2,506.3 278.2,506.3 278.4,503.7 279.4,503.7 280.3,503.7 281.3,503.7 281.6,501.2 282.5,501.2 283.5,501.2 284.5,501.2 284.7,498.6 285.7,498.6 286.7,498.6 287.6,498.6 287.9,496.0 288.8,496.0 289.8,496.0 290.8,496.0 291.0,496.0 291.3,493.5 292.2,493.5 293.2,493.5 294.2,493.5 294.4,490.9 295.4,490.9 296.4,490.9 297.4,490.9 297.6,490.9 297.8,488.3 298.8,488.3 299.8,488.3 300.8,488.3 301.0,485.8 302.0,485.8 302.9,485.8 303.9,485.8 304.2,485.8 304.4,483.2 305.4,483.2 306.3,483.2 307.3,483.2 307.6,483.2 307.8,480.6 308.8,480.6 309.7,480.6 310.7,480.6 311.0,480.6 311.2,478.1 312.2,478.1 313.1,478.1 314.1,478.1 314.4,478.1 314.6,475.5 315.6,475.5 316.5,475.5 317.5,475.5 318.0,475.5 318.2,472.9 319.2,472.9 320.2,472.9 321.2,472.9 321.4,472.9 321.6,470.4 322.6,470.4 323.6,470.4 324.6,470.4 325.0,470.4 325.3,467.8 326.3,467.8 327.2,467.8 328.2,467.8 328.4,467.8 328.7,465.2 329.7,465.2 330.6,465.2 331.6,465.2 332.1,465.2 332.3,462.7 333.3,462.7 334.3,462.7 335.2,462.7 335.7,462.7 336.0,460.1 336.9,460.1 337.9,460.1 338.9,460.1 339.4,460.1 339.6,457.5 340.6,457.5 341.6,457.5 342.5,457.5 343.0,457.5 343.3,455.0 344.2,455.0 345.2,455.0 346.2,455.0 346.7,455.0 346.9,452.4 347.9,452.4 348.8,452.4 349.8,452.4 350.5,452.4 350.8,449.8 351.8,449.8 352.7,449.8 353.7,449.8 354.2,449.8 354.4,447.3 355.4,447.3 356.4,447.3 357.4,447.3 358.1,447.3 358.3,444.7 359.3,444.7 360.3,444.7 361.2,444.7 361.7,444.7 362.0,442.1 362.9,442.1 363.9,442.1 364.9,442.1 365.6,442.1 365.9,439.6 366.8,439.6 367.8,439.6 368.8,439.6 369.5,439.6 369.7,437.0 370.7,437.0 371.7,437.0 372.7,437.0 373.4,437.0 373.6,434.4 374.6,434.4 375.6,434.4 376.5,434.4 377.5,434.4 377.8,431.9 378.7,431.9 379.7,431.9 380.7,431.9 381.4,431.9 381.6,429.3 382.6,429.3 383.6,429.3 384.6,429.3 385.3,429.3 385.5,426.7 386.5,426.7 387.5,426.7 388.4,426.7 389.4,426.7 389.7,424.2 390.6,424.2 391.6,424.2 392.6,424.2 393.3,424.2 393.5,421.6 394.5,421.6 395.5,421.6 396.5,421.6 397.4,421.6 397.7,419.0 398.6,419.0 399.6,419.0 400.6,419.0 401.6,419.0 401.8,416.5 402.8,416.5 403.7,416.5 404.7,416.5 405.7,416.5 405.9,413.9 406.9,413.9 407.9,413.9 408.9,413.9 409.8,413.9 410.1,411.3 411.0,411.3 412.0,411.3 413.0,411.3 414.0,411.3 414.2,411.3 414.4,408.8 415.4,408.8 416.4,408.8 417.4,408.8 418.3,408.8 418.6,406.2 419.5,406.2 420.5,406.2 421.5,406.2 422.5,406.2 422.7,403.6 423.7,403.6 424.6,403.6 425.6,403.6 426.6,403.6 426.8,403.6 427.1,401.1 428.0,401.1 429.0,401.1 430.0,401.1 431.0,401.1 431.2,401.1 431.4,398.5 432.4,398.5 433.4,398.5 434.4,398.5 435.3,398.5 435.6,398.5 435.8,395.9 436.8,395.9 437.8,395.9 438.7,395.9 439.7,395.9 439.9,395.9 440.2,393.4 441.2,393.4 442.1,393.4 443.1,393.4 444.1,393.4 444.3,393.4 444.6,390.8 445.5,390.8 446.5,390.8 447.5,390.8 448.4,390.8 448.7,390.8 448.9,388.2 449.9,388.2 450.9,388.2 451.8,388.2 452.8,388.2 453.1,388.2 453.3,385.7 454.3,385.7 455.2,385.7 456.2,385.7 457.2,385.7 457.7,385.7 457.9,383.1 458.9,383.1 459.9,383.1 460.8,383.1 461.8,383.1 462.0,383.1 462.3,380.5 463.3,380.5 464.2,380.5 465.2,380.5 466.2,380.5 466.7,380.5 466.9,378.0 467.9,378.0 468.9,378.0 469.8,378.0 470.8,378.0 471.0,378.0 471.3,375.4 472.3,375.4 473.2,375.4 474.2,375.4 475.2,375.4 475.7,375.4 475.9,372.8 476.9,372.8 477.8,372.8 478.8,372.8 479.8,372.8 480.3,372.8 480.5,370.3 481.5,370.3 482.5,370.3 483.4,370.3 484.4,370.3 484.9,370.3 485.1,367.7 486.1,367.7 487.1,367.7 488.0,367.7 489.0,367.7 489.7,367.7 490.0,365.1 491.0,365.1 491.9,365.1 492.9,365.1 493.9,365.1 494.4,365.1 494.6,362.6 495.6,362.6 496.5,362.6 497.5,362.6 498.5,362.6 499.2,362.6 499.5,360.0 500.4,360.0 501.4,360.0 502.4,360.0 503.3,360.0 503.8,360.0 504.1,357.4 505.0,357.4 506.0,357.4 507.0,357.4 508.0,357.4 508.7,357.4 508.9,354.9 509.9,354.9 510.9,354.9 511.8,354.9 512.8,354.9 513.5,354.9 513.8,352.3 514.8,352.3 515.7,352.3 516.7,352.3 517.7,352.3 518.4,352.3 518.7,349.7 519.6,349.7 520.6,349.7 521.6,349.7 522.5,349.7 523.3,349.7 523.5,347.2 524.5,347.2 525.5,347.2 526.4,347.2 527.4,347.2 528.1,347.2 528.4,344.6 529.3,344.6 530.3,344.6 531.3,344.6 532.3,344.6 533.0,344.6 533.2,342.0 534.2,342.0 535.2,342.0 536.1,342.0 537.1,342.0 538.1,342.0 538.3,339.5 539.3,339.5 540.3,339.5 541.2,339.5 542.2,339.5 542.9,339.5 543.2,336.9 544.2,336.9 545.1,336.9 546.1,336.9 547.1,336.9 548.0,336.9 548.3,334.3 549.3,334.3 550.2,334.3 551.2,334.3 552.2,334.3 552.9,334.3 553.1,331.8 554.1,331.8 555.1,331.8 556.1,331.8 557.0,331.8 558.0,331.8 558.2,329.2 559.2,329.2 560.2,329.2 561.2,329.2 562.1,329.2 563.1,329.2 563.3,326.6 564.3,326.6 565.3,326.6 566.3,326.6 567.2,326.6 568.2,326.6 568.4,324.1 569.4,324.1 570.4,324.1 571.4,324.1 572.3,324.1 573.3,324.1 573.6,324.1 573.8,321.5 574.8,321.5 575.7,321.5 576.7,321.5 577.7,321.5 578.7,321.5 578.9,318.9 579.9,318.9 580.8,318.9 581.8,318.9 582.8,318.9 583.8,318.9 584.0,316.4 585.0,316.4 585.9,316.4 586.9,316.4 587.9,316.4 588.9,316.4 589.1,316.4 589.3,313.8 590.3,313.8 591.3,313.8 592.3,313.8 593.2,313.8 594.2,313.8 594.4,313.8 594.7,311.2 595.7,311.2 596.6,311.2 597.6,311.2 598.6,311.2 599.5,311.2 599.8,308.7 600.8,308.7 601.7,308.7 602.7,308.7 603.7,308.7 604.6,308.7 604.9,308.7 605.1,306.1 606.1,306.1 607.1,306.1 608.0,306.1 609.0,306.1 610.0,306.1 610.2,306.1 610.5,303.5 611.4,303.5 612.4,303.5 613.4,303.5 614.4,303.5 615.3,303.5 615.6,303.5 615.8,301.0 616.8,301.0 617.8,301.0 618.7,301.0 619.7,301.0 620.7,301.0 621.2,301.0 621.4,298.4 622.4,298.4 623.3,298.4 624.3,298.4 625.3,298.4 626.3,298.4 626.5,298.4 626.7,295.8 627.7,295.8 628.7,295.8 629.7,295.8 630.6,295.8 631.6,295.8 632.1,295.8 632.3,293.3 633.3,293.3 634.3,293.3 635.3,293.3 636.2,293.3 637.2,293.3 637.4,293.3 637.7,290.7 638.7,290.7 639.6,290.7 640.6,290.7 641.6,290.7 642.5,290.7 643.0,290.7 643.3,288.1 644.2,288.1 645.2,288.1 646.2,288.1 647.2,288.1 648.1,288.1 648.6,288.1 648.9,285.6 649.8,285.6 650.8,285.6 651.8,285.6 652.7,285.6 653.7,285.6 654.2,285.6 654.4,283.0 655.4,283.0 656.4,283.0 657.4,283.0 658.3,283.0 659.3,283.0 659.8,283.0 660.0,280.4 661.0,280.4 662.0,280.4 662.9,280.4 663.9,280.4 664.9,280.4 665.4,280.4 665.6,277.9 666.6,277.9 667.6,277.9 668.5,277.9 669.5,277.9 670.5,277.9 671.0,277.9 671.2,275.3 672.2,275.3 673.1,275.3 674.1,275.3 675.1,275.3 676.1,275.3 676.8,275.3 677.0,272.8 678.0,272.8 679.0,272.8 679.9,272.8 680.9,272.8 681.9,272.8 682.4,272.8 682.6,270.2 683.6,270.2 684.6,270.2 685.5,270.2 686.5,270.2 687.5,270.2 688.2,270.2 688.5,267.6 689.4,267.6 690.4,267.6 691.4,267.6 692.3,267.6 693.3,267.6 693.8,267.6 694.0,265.1 695.0,265.1 696.0,265.1 697.0,265.1 697.9,265.1 698.9,265.1 699.6,265.1 699.9,262.5 700.8,262.5 701.8,262.5 702.8,262.5 703.8,262.5 704.7,262.5 705.5,262.5 705.7,259.9 706.7,259.9 707.6,259.9 708.6,259.9 709.6,259.9 710.6,259.9 711.3,259.9 711.5,257.4 712.5,257.4 713.5,257.4 714.4,257.4 715.4,257.4 716.4,257.4 717.4,257.4 717.6,254.8 718.6,254.8 719.5,254.8 720.5,254.8 721.5,254.8 722.5,254.8 723.2,254.8 723.4,252.2 724.4,252.2 725.4,252.2 726.3,252.2 727.3,252.2 728.3,252.2 729.0,252.2 729.3,249.7 730.2,249.7 731.2,249.7 732.2,249.7 733.1,249.7 734.1,249.7 735.1,249.7 735.3,247.1 736.3,247.1 737.3,247.1 738.2,247.1 739.2,247.1 740.2,247.1 741.2,247.1 741.4,244.5 742.4,244.5 743.4,244.5 744.3,244.5 745.3,244.5 746.3,244.5 747.0,244.5 747.2,242.0 748.2,242.0 749.2,242.0 750.2,242.0 751.1,242.0 752.1,242.0 753.1,242.0 753.3,239.4 754.3,239.4 755.3,239.4 756.2,239.4 757.2,239.4 758.2,239.4 759.1,239.4 759.4,236.8 760.4,236.8 761.3,236.8 762.3,236.8 763.3,236.8 764.2,236.8 765.2,236.8 765.5,234.3 766.4,234.3 767.4,234.3 768.4,234.3 769.3,234.3 770.3,234.3 771.3,234.3 771.5,234.3 771.8,231.7 772.7,231.7 773.7,231.7 774.7,231.7 775.7,231.7 776.6,231.7 777.6,231.7 777.8,229.1 778.8,229.1 779.8,229.1 780.8,229.1 781.7,229.1 782.7,229.1 783.7,229.1 783.9,229.1 784.2,226.6 785.1,226.6 786.1,226.6 787.1,226.6 788.0,226.6 789.0,226.6 790.0,226.6 790.2,224.0 791.2,224.0 792.2,224.0 793.1,224.0 794.1,224.0 795.1,224.0 796.1,224.0 796.3,224.0 796.6,221.4 797.5,221.4 798.5,221.4 799.5,221.4 800.4,221.4 801.4,221.4 802.4,221.4 802.6,221.4 802.9,218.9 803.8,218.9 804.8,218.9 805.8,218.9 806.8,218.9 807.7,218.9 808.7,218.9 808.9,218.9 809.2,216.3 810.2,216.3 811.1,216.3 812.1,216.3 813.1,216.3 814.0,216.3 815.0,216.3 815.3,216.3 815.5,213.7 816.5,213.7 817.4,213.7 818.4,213.7 819.4,213.7 820.4,213.7 821.3,213.7 821.6,213.7 821.8,211.2 822.8,211.2 823.8,211.2 824.7,211.2 825.7,211.2 826.7,211.2 827.6,211.2 827.9,211.2 828.1,208.6 829.1,208.6 830.1,208.6 831.0,208.6 832.0,208.6 833.0,208.6 834.0,208.6 834.2,208.6 834.4,206.0 835.4,206.0 836.4,206.0 837.4,206.0 838.3,206.0 839.3,206.0 840.3,206.0 840.8,206.0 841.0,203.5 842.0,203.5 842.9,203.5 843.9,203.5 844.9,203.5 845.9,203.5 846.8,203.5 847.3,203.5 847.6,200.9 848.5,200.9 849.5,200.9 850.5,200.9 851.5,200.9 852.4,200.9 853.4,200.9 853.6,200.9 853.9,198.3 854.9,198.3 855.8,198.3 856.8,198.3 857.8,198.3 858.7,198.3 859.7,198.3 860.2,198.3 860.4,195.8 861.4,195.8 862.4,195.8 863.4,195.8 864.3,195.8 865.3,195.8 866.3,195.8 866.8,195.8 867.0,193.2 868.0,193.2 868.9,193.2 869.9,193.2 870.9,193.2 871.9,193.2 872.8,193.2 873.3,193.2 873.6,190.6 874.5,190.6 875.5,190.6 876.5,190.6 877.4,190.6 878.4,190.6 879.4,190.6 879.9,190.6 880.1,188.1 881.1,188.1 882.1,188.1 883.0,188.1 884.0,188.1 885.0,188.1 885.9,188.1 886.7,188.1 886.9,185.5 887.9,185.5 888.9,185.5 889.8,185.5 890.8,185.5 891.8,185.5 892.7,185.5 893.2,185.5 893.5,182.9 894.4,182.9 895.4,182.9 896.4,182.9 897.4,182.9 898.3,182.9 899.3,182.9 900.0,182.9 900.3,180.4 901.2,180.4 902.2,180.4 903.2,180.4 904.2,180.4 905.1,180.4 906.1,180.4 906.6,180.4 906.8,177.8 907.8,177.8 908.8,177.8 909.8,177.8 910.7,177.8 911.7,177.8 912.7,177.8 913.4,177.8 913.6,175.2 914.6,175.2 915.6,175.2 916.6,175.2 917.5,175.2 918.5,175.2 919.5,175.2 920.2,175.2 920.4,172.7 921.4,172.7 922.4,172.7 923.4,172.7 924.3,172.7 925.3,172.7 926.3,172.7 927.0,172.7 927.2,170.1 928.2,170.1 929.2,170.1 930.2,170.1 931.1,170.1 932.1,170.1 933.1,170.1 933.8,170.1 934.0,167.5 935.0,167.5 936.0,167.5 937.0,167.5 937.9,167.5 938.9,167.5 939.9,167.5 940.6,167.5 940.8,165.0 941.8,165.0 942.8,165.0 943.8,165.0 944.7,165.0 945.7,165.0 946.7,165.0 947.4,165.0 947.6,162.4 948.6,162.4 949.6,162.4 950.6,162.4 951.5,162.4 952.5,162.4 953.5,162.4 954.4,162.4 954.7,159.8 955.7,159.8 956.6,159.8 957.6,159.8 958.6,159.8 959.5,159.8 960.5,159.8 961.3,159.8 961.5,157.3 962.5,157.3 963.4,157.3 964.4,157.3 965.4,157.3 966.4,157.3 967.3,157.3 968.3,157.3 968.5,154.7 969.5,154.7 970.5,154.7 971.5,154.7 972.4,154.7 973.4,154.7 974.4,154.7 975.3,154.7 975.6,152.1 976.6,152.1 977.5,152.1 978.5,152.1 979.5,152.1 980.4,152.1 981.4,152.1 982.4,152.1 982.6,149.6 983.6,149.6 984.6,149.6 985.5,149.6 986.5,149.6 987.5,149.6 988.5,149.6 989.4,149.6 989.7,147.0 990.6,147.0 991.6,147.0 992.6,147.0 993.6,147.0 994.5,147.0 995.5,147.0 996.5,147.0 996.7,144.4 997.7,144.4 998.7,144.4 999.6,144.4 1000.6,144.4 1001.6,144.4 1002.5,144.4 1003.5,144.4 1003.8,141.9 1004.7,141.9 1005.7,141.9 1006.7,141.9 1007.6,141.9 1008.6,141.9 1009.6,141.9 1010.6,141.9 1010.8,139.3 1011.8,139.3 1012.7,139.3 1013.7,139.3 1014.7,139.3 1015.7,139.3 1016.6,139.3 1017.6,139.3 1017.9,139.3 1018.1,136.7 1019.1,136.7 1020.0,136.7 1021.0,136.7 1022.0,136.7 1023.0,136.7 1023.9,136.7 1024.9,136.7 1025.1,136.7 1025.4,134.2 1026.4,134.2 1027.3,134.2 1028.3,134.2 1029.3,134.2 1030.2,134.2 1031.2,134.2 1032.2,134.2 1032.4,131.6 1033.4,131.6 1034.4,131.6 1035.3,131.6 1036.3,131.6 1037.3,131.6 1038.3,131.6 1039.2,131.6 1039.5,131.6 1039.7,129.0 1040.7,129.0 1041.7,129.0 1042.6,129.0 1043.6,129.0 1044.6,129.0 1045.5,129.0 1046.5,129.0 1046.8,129.0 1047.0,126.5 1048.0,126.5 1048.9,126.5 1049.9,126.5 1050.9,126.5 1051.9,126.5 1052.8,126.5 1053.8,126.5 1054.0,126.5 1054.3,123.9 1055.3,123.9 1056.2,123.9 1057.2,123.9 1058.2,123.9 1059.1,123.9 1060.1,123.9 1061.1,123.9 1061.3,123.9 1061.6,121.3 1062.5,121.3 1063.5,121.3 1064.5,121.3 1065.5,121.3 1066.4,121.3 1067.4,121.3 1068.4,121.3 1068.6,121.3 1068.9,118.8 1069.8,118.8 1070.8,118.8 1071.8,118.8 1072.8,118.8 1073.7,118.8 1074.7,118.8 1075.7,118.8 1076.2,118.8 1076.4,116.2 1077.4,116.2 1078.3,116.2 1079.3,116.2 1080.3,116.2 1081.3,116.2 1082.2,116.2 1083.2,116.2 1083.4,116.2 1083.7,113.6 1084.7,113.6 1085.6,113.6 1086.6,113.6 1087.6,113.6 1088.5,113.6 1089.5,113.6 1090.5,113.6 1091.0,113.6 1091.2,111.1 1092.2,111.1 1093.2,111.1 1094.1,111.1 1095.1,111.1 1096.1,111.1 1097.0,111.1 1098.0,111.1 1098.5,111.1" fill="none" stroke="#800080" stroke-width="1" marker-start="url(#m5)" marker-mid="url(#m5)" marker-end="url(#m5)"/>
<polyline points="103.5,765.5 104.5,765.5 105.4,765.5 106.4,765.5 107.4,765.5 108.4,765.5 109.3,765.5 110.3,765.5 111.3,765.5 112.2,765.5 113.2,765.5 114.2,765.5 115.2,765.5 116.1,765.5 116.9,765.5 117.1,762.9 118.1,762.9 119.0,762.9 120.0,762.9 120.7,762.9 121.0,760.4 122.0,760.4 122.9,760.4 123.9,760.4 124.6,760.4 124.9,757.8 125.8,757.8 126.8,757.8 127.8,757.8 128.5,757.8 128.8,755.2 129.7,755.2 130.7,755.2 131.7,755.2 132.4,755.2 132.7,752.7 133.6,752.7 134.6,752.7 135.6,752.7 136.3,752.7 136.5,750.1 137.5,750.1 138.5,750.1 139.5,750.1 139.9,750.1 140.2,747.5 141.2,747.5 142.1,747.5 143.1,747.5 143.8,747.5 144.1,745.0 145.0,745.0 146.0,745.0 147.0,745.0 147.7,745.0 148.0,742.4 148.9,742.4 149.9,742.4 150.9,742.4 151.6,742.4 151.8,739.8 152.8,739.8 153.8,739.8 154.8,739.8 155.5,739.8 155.7,737.3 156.7,737.3 157.7,737.3 158.6,737.3 159.4,737.3 159.6,734.7 160.6,734.7 161.6,734.7 162.5,734.7 163.0,734.7 163.3,732.1 164.2,732.1 165.2,732.1 166.2,732.1 166.9,732.1 167.1,729.6 168.1,729.6 169.1,729.6 170.1,729.6 170.8,729.6 171.0,727.0 172.0,727.0 173.0,727.0 173.9,727.0 174.7,727.0 174.9,724.4 175.9,724.4 176.9,724.4 177.8,724.4 178.6,724.4 178.8,721.9 179.8,721.9 180.7,721.9 181.7,721.9 182.4,721.9 182.7,719.3 183.7,719.3 184.6,719.3 185.6,719.3 186.3,719.3 186.6,716.7 187.6,716.7 188.5,716.7 189.5,716.7 190.0,716.7 190.2,714.2 191.2,714.2 192.2,714.2 193.1,714.2 193.9,714.2 194.1,711.6 195.1,711.6 196.1,711.6 197.0,711.6 197.8,711.6 198.0,709.0 199.0,709.0 199.9,709.0 200.9,709.0 201.6,709.0 201.9,706.5 202.9,706.5 203.8,706.5 204.8,706.5 205.5,706.5 205.8,703.9 206.7,703.9 207.7,703.9 208.7,703.9 209.4,703.9 209.7,701.3 210.6,701.3 211.6,701.3 212.6,701.3 213.1,701.3 213.3,698.8 214.3,698.8 215.2,698.8 216.2,698.8 216.9,698.8 217.2,696.2 218.2,696.2 219.1,696.2 220.1,696.2 220.8,696.2 221.1,693.6 222.0,693.6 223.0,693.6 224.0,693.6 224.7,693.6 225.0,691.1 225.9,691.1 226.9,691.1 227.9,691.1 228.6,691.1 228.8,688.5 229.8,688.5 230.8,688.5 231.8,688.5 232.5,688.5 232.7,685.9 233.7,685.9 234.7,685.9 235.6,685.9 236.1,685.9 236.4,683.4 237.3,683.4 238.3,683.4 239.3,683.4 240.0,683.4 240.3,680.8 241.2,680.8 242.2,680.8 243.2,680.8 243.9,680.8 244.2,678.2 245.1,678.2 246.1,678.2 247.1,678.2 247.8,678.2 248.0,675.7 249.0,675.7 250.0,675.7 251.0,675.7 251.7,675.7 251.9,673.1 252.9,673.1 253.9,673.1 254.8,673.1 255.6,673.1 255.8,670.5 256.8,670.5 257.8,670.5 258.7,670.5 259.5,670.5 259.7,668.0 260.7,668.0 261.6,668.0 262.6,668.0 263.1,668.0 263.3,665.4 264.3,665.4 265.3,665.4 266.3,665.4 267.0,665.4 267.2,662.8 268.2,662.8 269.2,662.8 270.1,662.8 270.9,662.8 271.1,660.3 272.1,660.3 273.1,660.3 274.0,660.3 274.8,660.3 275.0,657.7 276.0,657.7 276.9,657.7 277.9,657.7 278.6,657.7 278.9,655.1 279.9,655.1 280.8,655.1 281.8,655.1 282.5,655.1 282.8,652.6 283.7,652.6 284.7,652.6 285.7,652.6 286.2,652.6 286.4,650.0 287.4,650.0 288.4,650.0 289.3,650.0 290.1,650.0 290.3,647.4 291.3,647.4 292.2,647.4 293.2,647.4 293.9,647.4 294.2,644.9 295.2,644.9 296.1,644.9 297.1,644.9 297.8,644.9 298.1,642.3 299.1,642.3 300.0,642.3 301.0,642.3 301.7,642.3 302.0,639.7 302.9,639.7 303.9,639.7 304.9,639.7 305.6,639.7 305.9,637.2 306.8,637.2 307.8,637.2 308.8,637.2 309.5,637.2 309.7,634.6 310.7,634.6 311.7,634.6 312.7,634.6 313.1,634.6 313.4,632.0 314.4,632.0 315.3,632.0 316.3,632.0 317.0,632.0 317.3,629.5 318.2,629.5 319.2,629.5 320.2,629.5 320.9,629.5 321.2,626.9 322.1,626.9 323.1,626.9 324.1,626.9 324.8,626.9 325.0,624.3 326.0,624.3 327.0,624.3 328.0,624.3 328.7,624.3 328.9,621.8 329.9,621.8 330.9,621.8 331.8,621.8 332.6,621.8 332.8,619.2 333.8,619.2 334.8,619.2 335.7,619.2 336.2,619.2 336.5,616.6 337.4,616.6 338.4,616.6 339.4,616.6 340.1,616.6 340.3,614.1 341.3,614.1 342.3,614.1 343.3,614.1 344.0,614.1 344.2,611.5 345.2,611.5 346.2,611.5 347.1,611.5 347.9,611.5 348.1,608.9 349.1,608.9 350.1,608.9 351.0,608.9 351.8,608.9 352.0,606.4 353.0,606.4 354.0,606.4 354.9,606.4 355.7,606.4 355.9,603.8 356.9,603.8 357.8,603.8 358.8,603.8 359.3,603.8 359.5,601.2 360.5,601.2 361.5,601.2 362.5,601.2 363.2,601.2 363.4,598.7 364.4,598.7 365.4,598.7 366.3,598.7 367.1,598.7 367.3,596.1 368.3,596.1 369.3,596.1 370.2,596.1 371.0,596.1 371.2,593.6 372.2,593.6 373.1,593.6 374.1,593.6 374.8,593.6 375.1,591.0 376.1,591.0 377.0,591.0 378.0,591.0 378.7,591.0 379.0,588.4 379.9,588.4 380.9,588.4 381.9,588.4 382.6,588.4 382.9,585.9 383.8,585.9 384.8,585.9 385.8,585.9 386.3,585.9 386.5,583.3 387.5,583.3 388.4,583.3 389.4,583.3 390.1,583.3 390.4,580.7 391.4,580.7 392.3,580.7 393.3,580.7 394.0,580.7 394.3,578.2 395.2,578.2 396.2,578.2 397.2,578.2 397.9,578.2 398.2,575.6 399.1,575.6 400.1,575.6 401.1,575.6 401.8,575.6 402.0,573.0 403.0,573.0 404.0,573.0 405.0,573.0 405.7,573.0 405.9,570.5 406.9,570.5 407.9,570.5 408.9,570.5 409.3,570.5 409.6,567.9 410.6,567.9 411.5,567.9 412.5,567.9 413.2,567.9 413.5,565.3 414.4,565.3 415.4,565.3 416.4,565.3 417.1,565.3 417.4,562.8 418.3,562.8 419.3,562.8 420.3,562.8 421.0,562.8 421.2,560.2 422.2,560.2 423.2,560.2 424.2,560.2 424.9,560.2 425.1,557.6 426.1,557.6 427.1,557.6 428.0,557.6 428.8,557.6 429.0,555.1 430.0,555.1 431.0,555.1 431.9,555.1 432.7,555.1 432.9,552.5 433.9,552.5 434.8,552.5 435.8,552.5 436.3,552.5 436.5,549.9 437.5,549.9 438.5,549.9 439.5,549.9 440.2,549.9 440.4,547.4 441.4,547.4 442.4,547.4 443.3,547.4 444.1,547.4 444.3,544.8 445.3,544.8 446.3,544.8 447.2,544.8 448.0,544.8 448.2,542.2 449.2,542.2 450.1,542.2 451.1,542.2 451.8,542.2 452.1,539.7 453.1,539.7 454.0,539.7 455.0,539.7 455.7,539.7 456.0,537.1 456.9,537.1 457.9,537.1 458.9,537.1 459.4,537.1 459.6,534.5 460.6,534.5 461.6,534.5 462.5,534.5 463.3,534.5 463.5,532.0 464.5,532.0 465.5,532.0 466.4,532.0 467.2,532.0 467.4,529.4 468.4,529.4 469.3,529.4 470.3,529.4 471.0,529.4 471.3,526.8 472.3,526.8 473.2,526.8 474.2,526.8 474.9,526.8 475.2,524.3 476.1,524.3 477.1,524.3 478.1,524.3 478.8,524.3 479.1,521.7 480.0,521.7 481.0,521.7 482.0,521.7 482.5,521.7 482.7,519.1 483.7,519.1 484.6,519.1 485.6,519.1 486.3,519.1 486.6,516.6 487.6,516.6 488.5,516.6 489.5,516.6 490.2,516.6 490.5,514.0 491.4,514.0 492.4,514.0 493.4,514.0 494.1,514.0 494.4,511.4 495.3,511.4 496.3,511.4 497.3,511.4 498.0,511.4 498.2,508.9 499.2,508.9 500.2,508.9 501.2,508.9 501.9,508.9 502.1,506.3 503.1,506.3 504.1,506.3 505.0,506.3 505.8,506.3 506.0,503.7 507.0,503.7 508.0,503.7 508.9,503.7 509.4,503.7 509.7,501.2 510.6,501.2 511.6,501.2 512.6,501.2 513.3,501.2 513.5,498.6 514.5,498.6 515.5,498.6 516.5,498.6 517.2,498.6 517.4,496.0 518.4,496.0 519.4,496.0 520.4,496.0 521.1,496.0 521.3,493.5 522.3,493.5 523.3,493.5 524.2,493.5 525.0,493.5 525.2,490.9 526.2,490.9 527.2,490.9 528.1,490.9 528.9,490.9 529.1,488.3 530.1,488.3 531.0,488.3 532.0,488.3 532.5,488.3 532.7,485.8 533.7,485.8 534.7,485.8 535.7,485.8 536.4,485.8 536.6,483.2 537.6,483.2 538.6,483.2 539.5,483.2 540.3,483.2 540.5,480.6 541.5,480.6 542.5,480.6 543.4,480.6 544.2,480.6 544.4,478.1 545.4,478.1 546.3,478.1 547.3,478.1 548.0,478.1 548.3,475.5 549.3,475.5 550.2,475.5 551.2,475.5 551.9,475.5 552.2,472.9 553.1,472.9 554.1,472.9 555.1,472.9 555.8,472.9 556.1,470.4 557.0,470.4 558.0,470.4 559.0,470.4 559.5,470.4 559.7,467.8 560.7,467.8 561.6,467.8 562.6,467.8 563.3,467.8 563.6,465.2 564.6,465.2 565.5,465.2 566.5,465.2 567.2,465.2 567.5,462.7 568.4,462.7 569.4,462.7 570.4,462.7 571.1,462.7 571.4,460.1 572.3,460.1 573.3,460.1 574.3,460.1 575.0,460.1 575.3,457.5 576.2,457.5 577.2,457.5 578.2,457.5 578.9,457.5 579.1,455.0 580.1,455.0 581.1,455.0 582.1,455.0 582.5,455.0 582.8,452.4 583.8,452.4 584.7,452.4 585.7,452.4 586.4,452.4 586.7,449.8 587.6,449.8 588.6,449.8 589.6,449.8 590.3,449.8 590.6,447.3 591.5,447.3 592.5,447.3 593.5,447.3 594.2,447.3 594.4,444.7 595.4,444.7 596.4,444.7 597.4,444.7 598.1,444.7 598.3,442.1 599.3,442.1 600.3,442.1 601.2,442.1 602.0,442.1 602.2,439.6 603.2,439.6 604.2,439.6 605.1,439.6 605.6,439.6 605.9,437.0 606.8,437.0 607.8,437.0 608.8,437.0 609.5,437.0 609.7,434.4 610.7,434.4 611.7,434.4 612.7,434.4 613.4,434.4 613.6,431.9 614.6,431.9 615.6,431.9 616.5,431.9 617.3,431.9 617.5,429.3 618.5,429.3 619.5,429.3 620.4,429.3 621.2,429.3 621.4,426.7 622.4,426.7 623.3,426.7 624.3,426.7 625.0,426.7 625.3,424.2 626.3,424.2 627.2,424.2 628.2,424.2 628.9,424.2 629.2,421.6 630.2,421.6 631.1,421.6 632.1,421.6 632.6,421.6 632.8,419.0 633.8,419.0 634.8,419.0 635.7,419.0 636.5,419.0 636.7,416.5 637.7,416.5 638.7,416.5 639.6,416.5 640.4,416.5 640.6,413.9 641.6,413.9 642.5,413.9 643.5,413.9 644.2,413.9 644.5,411.3 645.5,411.3 646.4,411.3 647.4,411.3 648.1,411.3 648.4,408.8 649.3,408.8 650.3,408.8 651.3,408.8 652.0,408.8 652.3,406.2 653.2,406.2 654.2,406.2 655.2,406.2 655.7,406.2 655.9,403.6 656.9,403.6 657.8,403.6 658.8,403.6 659.5,403.6 659.8,401.1 660.8,401.1 661.7,401.1 662.7,401.1 663.4,401.1 663.7,398.5 664.6,398.5 665.6,398.5 666.6,398.5 667.3,398.5 667.6,395.9 668.5,395.9 669.5,395.9 670.5,395.9 671.2,395.9 671.4,393.4 672.4,393.4 673.4,393.4 674.4,393.4 675.1,393.4 675.3,390.8 676.3,390.8 677.3,390.8 678.2,390.8 679.0,390.8 679.2,388.2 680.2,388.2 681.2,388.2 682.1,388.2 682.6,388.2 682.9,385.7 683.8,385.7 684.8,385.7 685.8,385.7 686.5,385.7 686.8,383.1 687.7,383.1 688.7,383.1 689.7,383.1 690.4,383.1 690.6,380.5 691.6,380.5 692.6,380.5 693.6,380.5 694.3,380.5 694.5,378.0 695.5,378.0 696.5,378.0 697.4,378.0 698.2,378.0 698.4,375.4 699.4,375.4 700.4,375.4 701.3,375.4 702.1,375.4 702.3,372.8 703.3,372.8 704.2,372.8 705.2,372.8 705.7,372.8 705.9,370.3 706.9,370.3 707.9,370.3 708.9,370.3 709.6,370.3 709.8,367.7 710.8,367.7 711.8,367.7 712.7,367.7 713.5,367.7 713.7,365.1 714.7,365.1 715.7,365.1 716.6,365.1 717.4,365.1 717.6,362.6 718.6,362.6 719.5,362.6 720.5,362.6 721.2,362.6 721.5,360.0 722.5,360.0 723.4,360.0 724.4,360.0 725.1,360.0 725.4,357.4 726.3,357.4 727.3,357.4 728.3,357.4 728.8,357.4 729.0,354.9 730.0,354.9 731.0,354.9 731.9,354.9 732.7,354.9 732.9,352.3 733.9,352.3 734.8,352.3 735.8,352.3 736.5,352.3 736.8,349.7 737.8,349.7 738.7,349.7 739.7,349.7 740.4,349.7 740.7,347.2 741.7,347.2 742.6,347.2 743.6,347.2 744.3,347.2 744.6,344.6 745.5,344.6 746.5,344.6 747.5,344.6 748.2,344.6 748.5,342.0 749.4,342.0 750.4,342.0 751.4,342.0 752.1,342.0 752.3,339.5 753.3,339.5 754.3,339.5 755.3,339.5 755.7,339.5 756.0,336.9 757.0,336.9 757.9,336.9 758.9,336.9 759.6,336.9 759.9,334.3 760.8,334.3 761.8,334.3 762.8,334.3 763.5,334.3 763.8,331.8 764.7,331.8 765.7,331.8 766.7,331.8 767.4,331.8 767.6,329.2 768.6,329.2 769.6,329.2 770.6,329.2 771.3,329.2 771.5,326.6 772.5,326.6 773.5,326.6 774.4,326.6 775.2,326.6 775.4,324.1 776.4,324.1 777.4,324.1 778.3,324.1 778.8,324.1 779.1,321.5 780.0,321.5 781.0,321.5 782.0,321.5 782.7,321.5 782.9,318.9 783.9,318.9 784.9,318.9 785.9,318.9 786.6,318.9 786.8,316.4 787.8,316.4 788.8,316.4 789.7,316.4 790.5,316.4 790.7,313.8 791.7,313.8 792.7,313.8 793.6,313.8 794.4,313.8 794.6,311.2 795.6,311.2 796.6,311.2 797.5,311.2 798.3,311.2 798.5,308.7 799.5,308.7 800.4,308.7 801.4,308.7 802.1,308.7 802.4,306.1 803.4,306.1 804.3,306.1 805.3,306.1 805.8,306.1 806.0,303.5 807.0,303.5 808.0,303.5 808.9,303.5 809.7,303.5 809.9,301.0 810.9,301.0 811.9,301.0 812.8,301.0 813.6,301.0 813.8,298.4 814.8,298.4 815.7,298.4 816.7,298.4 817.4,298.4 817.7,295.8 818.7,295.8 819.6,295.8 820.6,295.8 821.3,295.8 821.6,293.3 822.5,293.3 823.5,293.3 824.5,293.3 825.2,293.3 825.5,290.7 826.4,290.7 827.4,290.7 828.4,290.7 828.9,290.7 829.1,288.1 830.1,288.1 831.0,288.1 832.0,288.1 832.7,288.1 833.0,285.6 834.0,285.6 834.9,285.6 835.9,285.6 836.6,285.6 836.9,283.0 837.8,283.0 838.8,283.0 839.8,283.0 840.5,283.0 840.8,280.4 841.7,280.4 842.7,280.4 843.7,280.4 844.4,280.4 844.6,277.9 845.6,277.9 846.6,277.9 847.6,277.9 848.3,277.9 848.5,275.3 849.5,275.3 850.5,275.3 851.5,275.3 851.9,275.3 852.2,272.8 853.2,272.8 854.1,272.8 855.1,272.8 855.8,272.8 856.1,270.2 857.0,270.2 858.0,270.2 859.0,270.2 859.7,270.2 860.0,267.6 860.9,267.6 861.9,267.6 862.9,267.6 863.6,267.6 863.8,265.1 864.8,265.1 865.8,265.1 866.8,265.1 867.5,265.1 867.7,262.5 868.7,262.5 869.7,262.5 870.6,262.5 871.4,262.5 871.6,259.9 872.6,259.9 873.6,259.9 874.5,259.9 875.3,259.9 875.5,257.4 876.5,257.4 877.4,257.4 878.4,257.4 878.9,257.4 879.1,254.8 880.1,254.8 881.1,254.8 882.1,254.8 882.8,254.8 883.0,252.2 884.0,252.2 885.0,252.2 885.9,252.2 886.7,252.2 886.9,249.7 887.9,249.7 888.9,249.7 889.8,249.7 890.6,249.7 890.8,247.1 891.8,247.1 892.7,247.1 893.7,247.1 894.4,247.1 894.7,244.5 895.7,244.5 896.6,244.5 897.6,244.5 898.3,244.5 898.6,242.0 899.5,242.0 900.5,242.0 901.5,242.0 902.0,242.0 902.2,239.4 903.2,239.4 904.2,239.4 905.1,239.4 905.9,239.4 906.1,236.8 907.1,236.8 908.1,236.8 909.0,236.8 909.8,236.8 910.0,234.3 911.0,234.3 911.9,234.3 912.9,234.3 913.6,234.3 913.9,231.7 914.9,231.7 915.8,231.7 916.8,231.7 917.5,231.7 917.8,229.1 918.7,229.1 919.7,229.1 920.7,229.1 921.4,229.1 921.7,226.6 922.6,226.6 923.6,226.6 924.6,226.6 925.3,226.6 925.5,224.0 926.5,224.0 927.5,224.0 928.5,224.0 928.9,224.0 929.2,221.4 930.2,221.4 931.1,221.4 932.1,221.4 932.8,221.4 933.1,218.9 934.0,218.9 935.0,218.9 936.0,218.9 936.7,218.9 937.0,216.3 937.9,216.3 938.9,216.3 939.9,216.3 940.6,216.3 940.8,213.7 941.8,213.7 942.8,213.7 943.8,213.7 944.5,213.7 944.7,211.2 945.7,211.2 946.7,211.2 947.6,211.2 948.4,211.2 948.6,208.6 949.6,208.6 950.6,208.6 951.5,208.6 952.0,208.6 952.3,206.0 953.2,206.0 954.2,206.0 955.2,206.0 955.9,206.0 956.1,203.5 957.1,203.5 958.1,203.5 959.1,203.5 959.8,203.5 960.0,200.9 961.0,200.9 962.0,200.9 963.0,200.9 963.7,200.9 963.9,198.3 964.9,198.3 965.9,198.3 966.8,198.3 967.6,198.3 967.8,195.8 968.8,195.8 969.8,195.8 970.7,195.8 971.5,195.8 971.7,193.2 972.7,193.2 973.6,193.2 974.6,193.2 975.1,193.2 975.3,190.6 976.3,190.6 977.3,190.6 978.3,190.6 979.0,190.6 979.2,188.1 980.2,188.1 981.2,188.1 982.1,188.1 982.9,188.1 983.1,185.5 984.1,185.5 985.1,185.5 986.0,185.5 986.8,185.5 987.0,182.9 988.0,182.9 988.9,182.9 989.9,182.9 990.6,182.9 990.9,180.4 991.9,180.4 992.8,180.4 993.8,180.4 994.5,180.4 994.8,177.8 995.7,177.8 996.7,177.8 997.7,177.8 998.4,177.8 998.7,175.2 999.6,175.2 1000.6,175.2 1001.6,175.2 1002.1,175.2 1002.3,172.7 1003.3,172.7 1004.2,172.7 1005.2,172.7 1005.9,172.7 1006.2,170.1 1007.2,170.1 1008.1,170.1 1009.1,170.1 1009.8,170.1 1010.1,167.5 1011.0,167.5 1012.0,167.5 1013.0,167.5 1013.7,167.5 1014.0,165.0 1014.9,165.0 1015.9,165.0 1016.9,165.0 1017.6,165.0 1017.9,162.4 1018.8,162.4 1019.8,162.4 1020.8,162.4 1021.5,162.4 1021.7,159.8 1022.7,159.8 1023.7,159.8 1024.7,159.8 1025.1,159.8 1025.4,157.3 1026.4,157.3 1027.3,157.3 1028.3,157.3 1029.0,157.3 1029.3,154.7 1030.2,154.7 1031.2,154.7 1032.2,154.7 1032.9,154.7 1033.2,152.1 1034.1,152.1 1035.1,152.1 1036.1,152.1 1036.8,152.1 1037.0,149.6 1038.0,149.6 1039.0,149.6 1040.0,149.6 1040.7,149.6 1040.9,147.0 1041.9,147.0 1042.9,147.0 1043.8,147.0 1044.6,147.0 1044.8,144.4 1045.8,144.4 1046.8,144.4 1047.7,144.4 1048.5,144.4 1048.7,141.9 1049.7,141.9 1050.6,141.9 1051.6,141.9 1052.1,141.9 1052.3,139.3 1053.3,139.3 1054.3,139.3 1055.3,139.3 1056.0,139.3 1056.2,136.7 1057.2,136.7 1058.2,136.7 1059.1,136.7 1059.9,136.7 1060.1,134.2 1061.1,134.2 1062.1,134.2 1063.0,134.2 1063.8,134.2 1064.0,131.6 1065.0,131.6 1065.9,131.6 1066.9,131.6 1067.6,131.6 1067.9,129.0 1068.9,129.0 1069.8,129.0 1070.8,129.0 1071.5,129.0 1071.8,126.5 1072.8,126.5 1073.7,126.5 1074.7,126.5 1075.2,126.5 1075.4,123.9 1076.4,123.9 1077.4,123.9 1078.3,123.9 1079.1,123.9 1079.3,121.3 1080.3,121.3 1081.3,121.3 1082.2,121.3 1083.0,121.3 1083.2,118.8 1084.2,118.8 1085.1,118.8 1086.1,118.8 1086.8,118.8 1087.1,116.2 1088.1,116.2 1089.0,116.2 1090.0,116.2 1090.7,116.2 1091.0,113.6 1091.9,113.6 1092.9,113.6 1093.9,113.6 1094.6,113.6 1094.9,111.1 1095.8,111.1 1096.8,111.1 1097.8,111.1 1098.5,111.1" fill="none" stroke="#800000" stroke-width="1" marker-start="url(#m6)" marker-mid="url(#m6)" marker-end="url(#m6)"/>
<polyline points="103.5,765.5 104.5,765.5 105.4,765.5 106.4,765.5 107.4,765.5 108.4,765.5 109.3,765.5 110.3,765.5 111.3,765.5 112.2,765.5 113.2,765.5 114.2,765.5 115.2,765.5 116.1,765.5 117.1,765.5 118.1,765.5 119.0,765.5 120.0,765.5 121.0,765.5 122.0,765.5 122.9,765.5 123.9,765.5 124.9,765.5 125.8,765.5 126.8,765.5 127.8,765.5 128.8,765.5 129.7,765.5 130.7,765.5 131.7,765.5 132.7,765.5 133.6,765.5 134.6,765.5 135.6,765.5 136.5,765.5 137.5,765.5 138.5,765.5 139.5,765.5 140.4,765.5 141.4,765.5 142.4,765.5 143.3,765.5 144.3,765.5 145.3,765.5 146.3,765.5 147.2,765.5 148.2,765.5 149.2,765.5 150.1,765.5 151.1,765.5 152.1,765.5 153.1,765.5 154.0,765.5 155.0,765.5 156.0,765.5 156.9,765.5 157.9,765.5 158.9,765.5 159.9,765.5 160.8,765.5 161.8,765.5 162.8,765.5 163.7,765.5 164.7,765.5 165.7,765.5 166.7,765.5 167.6,765.5 168.6,765.5 169.6,765.5 170.5,765.5 171.5,765.5 172.5,765.5 173.5,765.5 174.4,765.5 174.7,765.5 174.9,762.9 175.9,762.9 176.9,762.9 177.8,762.9 178.8,762.9 179.8,762.9 180.7,762.9 181.7,762.9 182.7,762.9 183.7,762.9 184.6,762.9 185.6,762.9 186.6,762.9 187.6,762.9 188.5,762.9 189.5,762.9 190.5,762.9 191.4,762.9 192.4,762.9 193.4,762.9 194.4,762.9 195.3,762.9 196.3,762.9 197.3,762.9 198.2,762.9 199.2,762.9 200.2,762.9 200.4,760.4 201.4,760.4 202.4,760.4 203.3,760.4 204.3,760.4 205.3,760.4 206.3,760.4 207.2,760.4 208.2,760.4 209.2,760.4 210.1,760.4 211.1,760.4 212.1,760.4 213.1,760.4 214.0,760.4 215.0,760.4 216.0,760.4 216.9,760.4 217.9,760.4 218.9,760.4 219.9,760.4 220.1,757.8 221.1,757.8 222.0,757.8 223.0,757.8 224.0,757.8 225.0,757.8 225.9,757.8 226.9,757.8 227.9,757.8 228.8,757.8 229.8,757.8 230.8,757.8 231.8,757.8 232.7,757.8 233.7,757.8 234.7,757.8 235.6,757.8 236.1,757.8 236.4,755.2 237.3,755.2 238.3,755.2 239.3,755.2 240.3,755.2 241.2,755.2 242.2,755.2 243.2,755.2 244.2,755.2 245.1,755.2 246.1,755.2 247.1,755.2 248.0,755.2 249.0,755.2 250.0,755.2 250.7,755.2 251.0,752.7 251.9,752.7 252.9,752.7 253.9,752.7 254.8,752.7 255.8,752.7 256.8,752.7 257.8,752.7 258.7,752.7 259.7,752.7 260.7,752.7 261.6,752.7 262.6,752.7 263.6,752.7 263.8,752.7 264.1,750.1 265.0,750.1 266.0,750.1 267.0,750.1 268.0,750.1 268.9,750.1 269.9,750.1 270.9,750.1 271.8,750.1 272.8,750.1 273.8,750.1 274.8,750.1 275.7,750.1 276.0,750.1 276.2,747.5 277.2,747.5 278.2,747.5 279.1,747.5 280.1,747.5 281.1,747.5 282.0,747.5 283.0,747.5 284.0,747.5 285.0,747.5 285.9,747.5 286.9,747.5 287.4,747.5 287.6,745.0 288.6,745.0 289.6,745.0 290.5,745.0 291.5,745.0 292.5,745.0 293.5,745.0 294.4,745.0 295.4,745.0 296.4,745.0 297.4,745.0 297.8,745.0 298.1,742.4 299.1,742.4 300.0,742.4 301.0,742.4 302.0,742.4 302.9,742.4 303.9,742.4 304.9,742.4 305.9,742.4 306.8,742.4 307.8,742.4 308.0,739.8 309.0,739.8 310.0,739.8 311.0,739.8 311.9,739.8 312.9,739.8 313.9,739.8 314.8,739.8 315.8,739.8 316.8,739.8 317.3,739.8 317.5,737.3 318.5,737.3 319.5,737.3 320.4,737.3 321.4,737.3 322.4,737.3 323.3,737.3 324.3,737.3 325.3,737.3 326.3,737.3 326.5,737.3 326.7,734.7 327.7,734.7 328.7,734.7 329.7,734.7 330.6,734.7 331.6,734.7 332.6,734.7 333.5,734.7 334.5,734.7 335.2,734.7 335.5,732.1 336.5,732.1 337.4,732.1 338.4,732.1 339.4,732.1 340.3,732.1 341.3,732.1 342.3,732.1 343.3,732.1 343.5,732.1 343.7,729.6 344.7,729.6 345.7,729.6 346.7,729.6 347.6,729.6 348.6,729.6 349.6,729.6 350.5,729.6 351.5,729.6 351.8,727.0 352.7,727.0 353.7,727.0 354.7,727.0 355.7,727.0 356.6,727.0 357.6,727.0 358.6,727.0 359.3,727.0 359.5,724.4 360.5,724.4 361.5,724.4 362.5,724.4 363.4,724.4 364.4,724.4 365.4,724.4 366.3,724.4 367.1,724.4 367.3,721.9 368.3,721.9 369.3,721.9 370.2,721.9 371.2,721.9 372.2,721.9 373.1,721.9 374.1,721.9 374.4,721.9 374.6,719.3 375.6,719.3 376.5,719.3 377.5,719.3 378.5,719.3 379.5,719.3 380.4,719.3 381.4,719.3 381.6,716.7 382.6,716.7 383.6,716.7 384.6,716.7 385.5,716.7 386.5,716.7 387.5,716.7 388.4,716.7 388.7,714.2 389.7,714.2 390.6,714.2 391.6,714.2 392.6,714.2 393.5,714.2 394.5,714.2 395.2,714.2 395.5,711.6 396.5,711.6 397.4,711.6 398.4,711.6 399.4,711.6 400.3,711.6 401.3,711.6 402.0,711.6 402.3,709.0 403.3,709.0 404.2,709.0 405.2,709.0 406.2,709.0 407.1,709.0 408.1,709.0 408.4,709.0 408.6,706.5 409.6,706.5 410.6,706.5 411.5,706.5 412.5,706.5 413.5,706.5 414.4,706.5 414.7,706.5 414.9,703.9 415.9,703.9 416.9,703.9 417.8,703.9 418.8,703.9 419.8,703.9 420.8,703.9 421.0,703.9 421.2,701.3 422.2,701.3 423.2,701.3 424.2,701.3 425.1,701.3 426.1,701.3 427.1,701.3 427.3,698.8 428.3,698.8 429.3,698.8 430.2,698.8 431.2,698.8 432.2,698.8 433.1,698.8 433.4,696.2 434.4,696.2 435.3,696.2 436.3,696.2 437.3,696.2 438.2,696.2 439.0,696.2 439.2,693.6 440.2,693.6 441.2,693.6 442.1,693.6 443.1,693.6 444.1,693.6 444.8,693.6 445.0,691.1 446.0,691.1 447.0,691.1 448.0,691.1 448.9,691.1 449.9,691.1 450.4,691.1 450.6,688.5 451.6,688.5 452.6,688.5 453.5,688.5 454.5,688.5 455.5,688.5 456.0,688.5 456.2,685.9 457.2,685.9 458.2,685.9 459.1,685.9 460.1,685.9 461.1,685.9 461.6,685.9 461.8,683.4 462.8,683.4 463.8,683.4 464.7,683.4 465.7,683.4 466.7,683.4 466.9,683.4 467.2,680.8 468.1,680.8 469.1,680.8 470.1,680.8 471.0,680.8 472.0,680.8 472.3,680.8 472.5,678.2 473.5,678.2 474.4,678.2 475.4,678.2 476.4,678.2 477.4,678.2 477.6,675.7 478.6,675.7 479.5,675.7 480.5,675.7 481.5,675.7 482.5,675.7 482.7,673.1 483.7,673.1 484.6,673.1 485.6,673.1 486.6,673.1 487.6,673.1 487.8,670.5 488.8,670.5 489.7,670.5 490.7,670.5 491.7,670.5 492.7,670.5 492.9,668.0 493.9,668.0 494.8,668.0 495.8,668.0 496.8,668.0 497.8,668.0 498.0,665.4 499.0,665.4 499.9,665.4 500.9,665.4 501.9,665.4 502.6,665.4 502.9,662.8 503.8,662.8 504.8,662.8 505.8,662.8 506.7,662.8 507.5,662.8 507.7,660.3 508.7,660.3 509.7,660.3 510.6,660.3 511.6,660.3 512.1,660.3 512.3,657.7 513.3,657.7 514.3,657.7 515.2,657.7 516.2,657.7 516.9,657.7 517.2,655.1 518.2,655.1 519.1,655.1 520.1,655.1 521.1,655.1 521.6,655.1 521.8,652.6 522.8,652.6 523.8,652.6 524.7,652.6 525.7,652.6 526.2,652.6 526.4,650.0 527.4,650.0 528.4,650.0 529.3,650.0 530.3,650.0 530.8,650.0 531.0,647.4 532.0,647.4 533.0,647.4 534.0,647.4 534.9,647.4 535.2,647.4 535.4,644.9 536.4,644.9 537.4,644.9 538.3,644.9 539.3,644.9 539.8,644.9 540.0,642.3 541.0,642.3 542.0,642.3 542.9,642.3 543.9,642.3 544.2,642.3 544.4,639.7 545.4,639.7 546.3,639.7 547.3,639.7 548.3,639.7 548.5,639.7 548.8,637.2 549.7,637.2 550.7,637.2 551.7,637.2 552.7,637.2 552.9,637.2 553.1,634.6 554.1,634.6 555.1,634.6 556.1,634.6 557.0,634.6 557.3,634.6 557.5,632.0 558.5,632.0 559.5,632.0 560.4,632.0 561.4,632.0 561.6,629.5 562.6,629.5 563.6,629.5 564.6,629.5 565.5,629.5 565.8,626.9 566.7,626.9 567.7,626.9 568.7,626.9 569.7,626.9 569.9,626.9 570.1,624.3 571.1,624.3 572.1,624.3 573.1,624.3 574.0,624.3 574.3,621.8 575.3,621.8 576.2,621.8 577.2,621.8 577.9,621.8 578.2,619.2 579.1,619.2 580.1,619.2 581.1,619.2 582.1,619.2 582.3,616.6 583.3,616.6 584.2,616.6 585.2,616.6 586.2,616.6 586.4,614.1 587.4,614.1 588.4,614.1 589.3,614.1 590.1,614.1 590.3,611.5 591.3,611.5 592.3,611.5 593.2,611.5 594.0,611.5 594.2,608.9 595.2,608.9 596.1,608.9 597.1,608.9 598.1,608.9 598.3,606.4 599.3,606.4 600.3,606.4 601.2,606.4 602.0,606.4 602.2,603.8 603.2,603.8 604.2,603.8 605.1,603.8 605.6,603.8 605.9,601.2 606.8,601.2 607.8,601.2 608.8,601.2 609.5,601.2 609.7,598.7 610.7,598.7 611.7,598.7 612.7,598.7 613.4,598.7 613.6,596.1 614.6,596.1 615.6,596.1 616.5,596.1 617.0,596.1 617.3,593.6 618.2,593.6 619.2,593.6 620.2,593.6 620.9,593.6 621.2,591.0 622.1,591.0 623.1,591.0 624.1,591.0 624.6,591.0 624.8,588.4 625.8,588.4 626.7,588.4 627.7,588.4 628.2,588.4 628.4,585.9 629.4,585.9 630.4,585.9 631.4,585.9 632.1,585.9 632.3,583.3 633.3,583.3 634.3,583.3 635.3,583.3 635.7,583.3 636.0,580.7 637.0,580.7 637.9,580.7 638.9,580.7 639.1,580.7 639.4,578.2 640.4,578.2 641.3,578.2 642.3,578.2 642.8,578.2 643.0,575.6 644.0,575.6 645.0,575.6 645.9,575.6 646.4,575.6 646.7,573.0 647.6,573.0 648.6,573.0 649.6,573.0 649.8,573.0 650.1,570.5 651.0,570.5 652.0,570.5 653.0,570.5 653.5,570.5 653.7,567.9 654.7,567.9 655.7,567.9 656.6,567.9 656.9,567.9 657.1,565.3 658.1,565.3 659.1,565.3 660.0,565.3 660.5,565.3 660.8,562.8 661.7,562.8 662.7,562.8 663.7,562.8 663.9,562.8 664.2,560.2 665.1,560.2 666.1,560.2 667.1,560.2 667.3,560.2 667.6,557.6 668.5,557.6 669.5,557.6 670.5,557.6 670.7,557.6 671.0,555.1 671.9,555.1 672.9,555.1 673.9,555.1 674.1,555.1 674.4,552.5 675.3,552.5 676.3,552.5 677.3,552.5 677.5,552.5 677.8,549.9 678.7,549.9 679.7,549.9 680.7,549.9 680.9,549.9 681.2,547.4 682.1,547.4 683.1,547.4 684.1,547.4 684.3,544.8 685.3,544.8 686.3,544.8 687.2,544.8 687.5,544.8 687.7,542.2 688.7,542.2 689.7,542.2 690.6,542.2 690.9,542.2 691.1,539.7 692.1,539.7 693.1,539.7 694.0,539.7 694.3,537.1 695.3,537.1 696.2,537.1 697.2,537.1 697.4,534.5 698.4,534.5 699.4,534.5 700.4,534.5 700.6,534.5 700.8,532.0 701.8,532.0 702.8,532.0 703.8,532.0 704.0,529.4 705.0,529.4 705.9,529.4 706.9,529.4 707.2,526.8 708.1,526.8 709.1,526.8 710.1,526.8 710.3,524.3 711.3,524.3 712.3,524.3 713.2,524.3 713.5,521.7 714.4,521.7 715.4,521.7 716.4,521.7 716.6,519.1 717.6,519.1 718.6,519.1 719.5,519.1 719.8,516.6 720.8,516.6 721.7,516.6 722.7,516.6 722.9,514.0 723.9,514.0 724.9,514.0 725.9,514.0 726.1,511.4 727.1,511.4 728.0,511.4 728.8,511.4 729.0,508.9 730.0,508.9 731.0,508.9 731.9,508.9 732.2,506.3 733.1,506.3 734.1,506.3 735.1,506.3 735.3,503.7 736.3,503.7 737.3,503.7 738.0,503.7 738.2,501.2 739.2,501.2 740.2,501.2 741.2,501.2 741.4,498.6 742.4,498.6 743.4,498.6 744.1,498.6 744.3,496.0 745.3,496.0 746.3,496.0 747.0,496.0 747.2,493.5 748.2,493.5 749.2,493.5 750.2,493.5 750.4,490.9 751.4,490.9 752.3,490.9 753.1,490.9 753.3,488.3 754.3,488.3 755.3,488.3 756.0,488.3 756.2,485.8 757.2,485.8 758.2,485.8 758.9,485.8 759.1,483.2 760.1,483.2 761.1,483.2 761.8,483.2 762.1,480.6 763.0,480.6 764.0,480.6 764.7,480.6 765.0,478.1 765.9,478.1 766.9,478.1 767.6,478.1 767.9,475.5 768.9,475.5 769.8,475.5 770.6,475.5 770.8,472.9 771.8,472.9 772.7,472.9 773.5,472.9 773.7,470.4 774.7,470.4 775.7,470.4 776.4,470.4 776.6,467.8 777.6,467.8 778.6,467.8 779.3,467.8 779.5,465.2 780.5,465.2 781.5,465.2 782.0,465.2 782.2,462.7 783.2,462.7 784.2,462.7 784.9,462.7 785.1,460.1 786.1,460.1 787.1,460.1 787.6,460.1 787.8,457.5 788.8,457.5 789.7,457.5 790.5,457.5 790.7,455.0 791.7,455.0 792.7,455.0 793.1,455.0 793.4,452.4 794.4,452.4 795.3,452.4 796.1,452.4 796.3,449.8 797.3,449.8 798.3,449.8 798.7,449.8 799.0,447.3 800.0,447.3 800.9,447.3 801.7,447.3 801.9,444.7 802.9,444.7 803.8,444.7 804.3,444.7 804.6,442.1 805.5,442.1 806.5,442.1 807.0,442.1 807.2,439.6 808.2,439.6 809.2,439.6 809.9,439.6 810.2,437.0 811.1,437.0 812.1,437.0 812.6,437.0 812.8,434.4 813.8,434.4 814.8,434.4 815.3,434.4 815.5,431.9 816.5,431.9 817.4,431.9 817.9,431.9 818.2,429.3 819.1,429.3 820.1,429.3 820.6,429.3 820.8,426.7 821.8,426.7 822.8,426.7 823.3,426.7 823.5,424.2 824.5,424.2 825.5,424.2 825.9,424.2 826.2,421.6 827.2,421.6 828.1,421.6 828.6,421.6 828.9,419.0 829.8,419.0 830.8,419.0 831.3,419.0 831.5,416.5 832.5,416.5 833.5,416.5 834.0,416.5 834.2,413.9 835.2,413.9 836.1,413.9 836.4,413.9 836.6,411.3 837.6,411.3 838.6,411.3 839.1,411.3 839.3,408.8 840.3,408.8 841.2,408.8 841.7,408.8 842.0,406.2 842.9,406.2 843.9,406.2 844.4,406.2 844.6,403.6 845.6,403.6 846.6,403.6 846.8,403.6 847.1,401.1 848.0,401.1 849.0,401.1 849.5,401.1 849.8,398.5 850.7,398.5 851.7,398.5 851.9,398.5 852.2,395.9 853.2,395.9 854.1,395.9 854.6,395.9 854.9,393.4 855.8,393.4 856.8,393.4 857.3,393.4 857.5,390.8 858.5,390.8 859.5,390.8 859.7,390.8 860.0,388.2 860.9,388.2 861.9,388.2 862.1,388.2 862.4,385.7 863.4,385.7 864.3,385.7 864.8,385.7 865.1,383.1 866.0,383.1 867.0,383.1 867.2,383.1 867.5,380.5 868.5,380.5 869.4,380.5 869.9,380.5 870.2,378.0 871.1,378.0 872.1,378.0 872.3,378.0 872.6,375.4 873.6,375.4 874.5,375.4 874.8,375.4 875.0,372.8 876.0,372.8 877.0,372.8 877.2,372.8 877.4,370.3 878.4,370.3 879.4,370.3 879.9,370.3 880.1,367.7 881.1,367.7 882.1,367.7 882.3,367.7 882.5,365.1 883.5,365.1 884.5,365.1 884.7,365.1 885.0,362.6 885.9,362.6 886.9,362.6 887.2,362.6 887.4,360.0 888.4,360.0 889.3,360.0 889.6,360.0 889.8,357.4 890.8,357.4 891.8,357.4 892.0,357.4 892.3,354.9 893.2,354.9 894.2,354.9 894.4,354.9 894.7,352.3 895.7,352.3 896.6,352.3 896.9,352.3 897.1,349.7 898.1,349.7 899.1,349.7 899.3,349.7 899.5,347.2 900.5,347.2 901.5,347.2 901.7,347.2 902.0,344.6 902.9,344.6 903.9,344.6 904.2,344.6 904.4,342.0 905.4,342.0 906.4,342.0 906.6,342.0 906.8,339.5 907.8,339.5 908.8,339.5 909.0,336.9 910.0,336.9 911.0,336.9 911.2,336.9 911.5,334.3 912.4,334.3 913.4,334.3 913.6,334.3 913.9,331.8 914.9,331.8 915.8,331.8 916.1,331.8 916.3,329.2 917.3,329.2 918.3,329.2 918.5,326.6 919.5,326.6 920.4,326.6 920.7,326.6 920.9,324.1 921.9,324.1 922.9,324.1 923.1,324.1 923.4,321.5 924.3,321.5 925.3,321.5 925.5,318.9 926.5,318.9 927.5,318.9 927.7,318.9 928.0,316.4 928.9,316.4 929.9,316.4 930.2,316.4 930.4,313.8 931.4,313.8 932.3,313.8 932.6,311.2 933.6,311.2 934.5,311.2 934.8,311.2 935.0,308.7 936.0,308.7 937.0,308.7 937.2,306.1 938.2,306.1 939.1,306.1 939.4,306.1 939.6,303.5 940.6,303.5 941.6,303.5 941.8,301.0 942.8,301.0 943.8,301.0 944.0,298.4 945.0,298.4 945.9,298.4 946.2,298.4 946.4,295.8 947.4,295.8 948.4,295.8 948.6,293.3 949.6,293.3 950.6,293.3 950.8,290.7 951.8,290.7 952.7,290.7 953.0,290.7 953.2,288.1 954.2,288.1 955.2,288.1 955.4,285.6 956.4,285.6 957.4,285.6 957.6,283.0 958.6,283.0 959.5,283.0 959.8,283.0 960.0,280.4 961.0,280.4 962.0,280.4 962.2,277.9 963.2,277.9 964.2,277.9 964.4,275.3 965.4,275.3 966.4,275.3 966.6,272.8 967.6,272.8 968.5,272.8 968.8,270.2 969.8,270.2 970.7,270.2 971.0,267.6 971.9,267.6 972.9,267.6 973.2,265.1 974.1,265.1 975.1,265.1 975.3,262.5 976.3,262.5 977.3,262.5 977.5,262.5 977.8,259.9 978.7,259.9 979.7,259.9 980.0,257.4 980.9,257.4 981.9,257.4 982.1,254.8 983.1,254.8 984.1,254.8 984.3,252.2 985.3,252.2 986.0,252.2 986.3,249.7 987.2,249.7 988.2,249.7 988.5,247.1 989.4,247.1 990.4,247.1 990.6,244.5 991.6,244.5 992.6,244.5 992.8,242.0 993.8,242.0 994.8,242.0 995.0,239.4 996.0,239.4 997.0,239.4 997.2,236.8 998.2,236.8 999.1,236.8 999.4,234.3 1000.4,234.3 1001.3,234.3 1001.6,231.7 1002.5,231.7 1003.3,231.7 1003.5,229.1 1004.5,229.1 1005.5,229.1 1005.7,226.6 1006.7,226.6 1007.6,226.6 1007.9,224.0 1008.9,224.0 1009.8,224.0 1010.1,221.4 1011.0,221.4 1011.8,221.4 1012.0,218.9 1013.0,218.9 1014.0,218.9 1014.2,216.3 1015.2,216.3 1016.2,216.3 1016.4,213.7 1017.4,213.7 1018.1,213.7 1018.3,211.2 1019.3,211.2 1020.3,211.2 1020.5,208.6 1021.5,208.6 1022.2,208.6 1022.5,206.0 1023.4,206.0 1024.4,206.0 1024.7,203.5 1025.6,203.5 1026.6,203.5 1026.8,200.9 1027.8,200.9 1028.5,200.9 1028.8,198.3 1029.8,198.3 1030.7,198.3 1031.0,195.8 1031.9,195.8 1032.7,195.8 1032.9,193.2 1033.9,193.2 1034.9,193.2 1035.1,190.6 1036.1,190.6 1036.8,190.6 1037.0,188.1 1038.0,188.1 1038.7,188.1 1039.0,185.5 1040.0,185.5 1040.9,185.5 1041.2,182.9 1042.1,182.9 1042.9,182.9 1043.1,180.4 1044.1,180.4 1045.1,180.4 1045.3,177.8 1046.3,177.8 1047.0,177.8 1047.2,175.2 1048.2,175.2 1048.9,175.2 1049.2,172.7 1050.2,172.7 1051.1,172.7 1051.4,170.1 1052.3,170.1 1053.1,170.1 1053.3,167.5 1054.3,167.5 1055.0,167.5 1055.3,165.0 1056.2,165.0 1057.2,165.0 1057.4,162.4 1058.4,162.4 1059.1,162.4 1059.4,159.8 1060.4,159.8 1061.1,159.8 1061.3,157.3 1062.3,157.3 1063.0,157.3 1063.3,154.7 1064.2,154.7 1065.2,154.7 1065.5,152.1 1066.4,152.1 1067.2,152.1 1067.4,149.6 1068.4,149.6 1069.1,149.6 1069.3,147.0 1070.3,147.0 1071.1,147.0 1071.3,144.4 1072.3,144.4 1073.0,144.4 1073.2,141.9 1074.2,141.9 1074.9,141.9 1075.2,139.3 1076.2,139.3 1076.9,139.3 1077.1,136.7 1078.1,136.7 1078.8,136.7 1079.1,134.2 1080.0,134.2 1081.0,134.2 1081.3,131.6 1082.2,131.6 1083.0,131.6 1083.2,129.0 1084.2,129.0 1084.9,129.0 1085.1,126.5 1086.1,126.5 1086.8,126.5 1087.1,123.9 1088.1,123.9 1088.8,123.9 1089.0,121.3 1090.0,121.3 1090.7,121.3 1091.0,118.8 1091.9,118.8 1092.7,118.8 1092.9,116.2 1093.9,116.2 1094.6,116.2 1094.9,113.6 1095.8,113.6 1096.6,113.6 1096.8,111.1 1097.8,111.1 1098.5,111.1" fill="none" stroke="#008080" stroke-width="1" marker-start="url(#m7)" marker-mid="url(#m7)" marker-end="url(#m7)"/>
<rect x="99" y="761" width="4" height="8" fill="#FF00FF"/><rect x="99" y="768" width="2" height="2" fill="#FFFF00"/><rect x="100" y="762" width="3" height="7" fill="#80FFFF"/><rect x="103" y="762" width="3" height="7" fill="#FF8080"/><rect x="100" y="765" width="6" height="1" fill="#FF8080"/>
<rect x="101" y="106" width="5" height="4" fill="#000"/>
<g font-family="Liberation Sans, Arial, sans-serif" style="font-kerning:none" stroke="#000" stroke-width="0.3" fill="#000" shape-rendering="auto">
<text x="631.5" y="48" font-size="21.25" font-weight="bold" stroke="none" text-anchor="middle">Lossy compression Look-up-table for Tables 1 through 7</text>
<text x="89" y="771.5" font-size="20" text-anchor="end">0</text>
<text x="89" y="689.4" font-size="20" text-anchor="end">32</text>
<text x="89" y="607.2" font-size="20" text-anchor="end">64</text>
<text x="89" y="525.1" font-size="20" text-anchor="end">96</text>
<text x="89" y="443.0" font-size="20" text-anchor="end">128</text>
<text x="89" y="360.9" font-size="20" text-anchor="end">160</text>
<text x="89" y="278.8" font-size="20" text-anchor="end">192</text>
<text x="89" y="196.6" font-size="20" text-anchor="end">224</text>
<text x="89" y="114.5" font-size="20" text-anchor="end">256</text>
<text x="103.5" y="800" font-size="20" text-anchor="middle">0</text>
<text x="227.9" y="800" font-size="20" text-anchor="middle">512</text>
<text x="352.2" y="800" font-size="20" text-anchor="middle">1024</text>
<text x="476.6" y="800" font-size="20" text-anchor="middle">1536</text>
<text x="601.0" y="800" font-size="20" text-anchor="middle">2048</text>
<text x="725.4" y="800" font-size="20" text-anchor="middle">2560</text>
<text x="849.8" y="800" font-size="20" text-anchor="middle">3072</text>
<text x="974.1" y="800" font-size="20" text-anchor="middle">3584</text>
<text x="1098.5" y="800" font-size="20" text-anchor="middle">4096</text>
<text x="600.5" y="831" font-size="19" font-weight="bold" stroke="none" text-anchor="middle">Input 12-bit DN</text>
<text transform="translate(41,436) rotate(-90)" font-size="19" font-weight="bold" stroke="none" text-anchor="middle">Output 8-bit DN</text>
</g>
<clipPath id="lc"><rect x="1140" y="335" width="111" height="203"/></clipPath>
<rect x="1139.5" y="334.5" width="112" height="204" fill="#fff" stroke="none"/>
<polyline points="1145,349.5 1164.5,349.5 1183,349.5" fill="none" stroke="#000080" stroke-width="1" marker-mid="url(#l1)"/>
<polyline points="1145,378.5 1164.5,378.5 1183,378.5" fill="none" stroke="#FF00FF" stroke-width="1" marker-mid="url(#m2)"/>
<polyline points="1145,407.5 1164.5,407.5 1183,407.5" fill="none" stroke="#FFFF00" stroke-width="1" marker-mid="url(#l3)"/>
<polyline points="1145,436.5 1164.5,436.5 1183,436.5" fill="none" stroke="#00FFFF" stroke-width="1" marker-mid="url(#m4)"/>
<polyline points="1145,465.5 1164.5,465.5 1183,465.5" fill="none" stroke="#800080" stroke-width="1" marker-mid="url(#m5)"/>
<polyline points="1145,494.5 1164.5,494.5 1183,494.5" fill="none" stroke="#800000" stroke-width="1" marker-mid="url(#l6)"/>
<polyline points="1145,523.5 1164.5,523.5 1183,523.5" fill="none" stroke="#008080" stroke-width="1" marker-mid="url(#m7)"/>
<g font-family="Liberation Sans, Arial, sans-serif" style="font-kerning:none" stroke="#000" stroke-width="0.3" fill="#000" shape-rendering="auto" font-size="19" clip-path="url(#lc)">
<text x="1189" y="355.5">Table 1</text>
<text x="1189" y="384.5">Table 2</text>
<text x="1189" y="413.5">Table 3</text>
<text x="1189" y="442.5">Table 4</text>
<text x="1189" y="471.5">Table 5</text>
<text x="1189" y="500.5">Table 6</text>
<text x="1189" y="529.5">Table 7</text>
</g>
<rect x="1139.5" y="334.5" width="112" height="204" fill="none" stroke="#000" stroke-width="1"/>
</svg></body></html>
